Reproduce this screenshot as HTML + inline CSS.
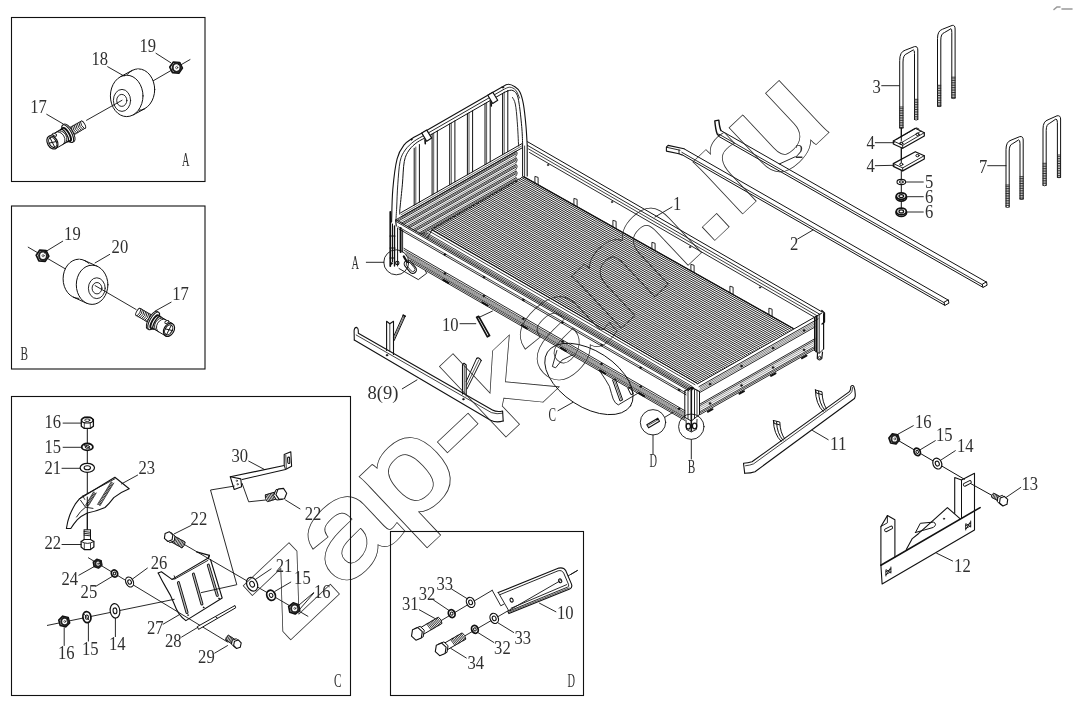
<!DOCTYPE html>
<html lang="zh">
<head>
<meta charset="utf-8">
<title>Parts diagram</title>
<style>
html,body{margin:0;padding:0;background:#fff;}
body{width:1074px;height:703px;overflow:hidden;}
svg{display:block;}
svg text{font-family:"Liberation Serif","Noto Serif CJK SC",serif;fill:#303030;}
svg .wmo,svg .wmi{font-family:"Liberation Sans",sans-serif;vector-effect:non-scaling-stroke;stroke-linejoin:miter;}
svg .wmo{fill:#fff;stroke:#fff;}
svg .wmi{fill:#000;stroke:#000;}
</style>
</head>
<body>
<svg width="1074" height="703" viewBox="0 0 1074 703" fill="none" stroke-linecap="round">
<rect x="0" y="0" width="1074" height="703" fill="#fff" stroke="none"/>
<path d="M432.2 229.5 L697.4 383.4M434.0 228.5 L699.2 382.3M435.7 227.5 L701.1 381.3M437.5 226.5 L702.9 380.2M439.3 225.4 L704.8 379.2M441.0 224.4 L706.6 378.1M442.8 223.4 L708.5 377.1M444.5 222.4 L710.3 376.0M446.3 221.4 L712.1 375.0M448.1 220.4 L714.0 373.9M449.8 219.4 L715.8 372.8M451.6 218.4 L717.7 371.8M453.4 217.3 L719.5 370.7M455.1 216.3 L721.4 369.7M456.9 215.3 L723.2 368.6M458.7 214.3 L725.0 367.6M460.4 213.3 L726.9 366.5M462.2 212.3 L728.7 365.5M463.9 211.3 L730.6 364.4M465.7 210.2 L732.4 363.3M467.5 209.2 L734.2 362.3M469.2 208.2 L736.1 361.2M471.0 207.2 L737.9 360.2M472.8 206.2 L739.8 359.1M474.5 205.2 L741.6 358.1M476.3 204.2 L743.5 357.0M478.0 203.2 L745.3 355.9M479.8 202.1 L747.1 354.9M481.6 201.1 L749.0 353.8M483.3 200.1 L750.8 352.8M485.1 199.1 L752.7 351.7M486.9 198.1 L754.5 350.7M488.6 197.1 L756.4 349.6M490.4 196.1 L758.2 348.6M492.2 195.0 L760.0 347.5M493.9 194.0 L761.9 346.4M495.7 193.0 L763.7 345.4M497.4 192.0 L765.6 344.3M499.2 191.0 L767.4 343.3M501.0 190.0 L769.2 342.2M502.7 189.0 L771.1 341.2M504.5 187.9 L772.9 340.1M506.3 186.9 L774.8 339.1M508.0 185.9 L776.6 338.0M509.8 184.9 L778.5 336.9M511.6 183.9 L780.3 335.9M513.3 182.9 L782.1 334.8M515.1 181.9 L784.0 333.8M516.8 180.9 L785.8 332.7M518.6 179.8 L787.7 331.7M520.4 178.8 L789.5 330.6M522.1 177.8 L791.4 329.6M523.9 176.8 L793.2 328.5" stroke="#151515" stroke-width="0.95" fill="none" stroke-linecap="butt"/>
<line x1="432" y1="230" x2="697" y2="383.2" stroke="#111" stroke-width="1.0"/>
<line x1="428" y1="230.4" x2="695" y2="384.7" stroke="#111" stroke-width="0.8"/>
<line x1="426" y1="232.6" x2="692" y2="386.3" stroke="#111" stroke-width="0.8"/>
<line x1="423.4" y1="232.8" x2="692" y2="388" stroke="#111" stroke-width="0.8"/>
<line x1="421.2" y1="233" x2="692" y2="389.5" stroke="#111" stroke-width="0.8"/>
<line x1="396" y1="219.8" x2="690" y2="389.8" stroke="#111" stroke-width="1.0"/>
<line x1="396.5" y1="221.7" x2="689" y2="390.8" stroke="#111" stroke-width="0.9"/>
<line x1="398" y1="226.6" x2="686" y2="393" stroke="#111" stroke-width="0.8"/>
<line x1="399" y1="229" x2="686" y2="394.8" stroke="#111" stroke-width="0.9"/>
<line x1="404" y1="248.4" x2="685" y2="410.8" stroke="#111" stroke-width="0.9"/>
<line x1="404" y1="250.3" x2="685" y2="412.7" stroke="#111" stroke-width="0.8"/>
<line x1="406" y1="252.7" x2="685" y2="414" stroke="#333" stroke-width="0.6"/>
<line x1="406" y1="253.9" x2="685" y2="415.2" stroke="#333" stroke-width="0.6"/>
<line x1="406" y1="255.1" x2="685" y2="416.4" stroke="#333" stroke-width="0.6"/>
<line x1="408" y1="257.4" x2="685" y2="417.5" stroke="#111" stroke-width="0.8"/>
<line x1="410" y1="260" x2="685" y2="419" stroke="#111" stroke-width="0.8"/>
<line x1="412" y1="262.7" x2="685" y2="420.5" stroke="#111" stroke-width="0.9"/>
<line x1="427.5" y1="238" x2="432.2" y2="229.5" stroke="#111" stroke-width="0.9"/>
<circle cx="444.8" cy="254.5" r="1" fill="#111" stroke="#111" stroke-width="0.5"/>
<circle cx="444.8" cy="273.4" r="1" fill="#111" stroke="#111" stroke-width="0.5"/>
<line x1="443.3" y1="279.9" x2="448.3" y2="282.9" stroke="#111" stroke-width="2.0"/>
<circle cx="483.9" cy="277.1" r="1" fill="#111" stroke="#111" stroke-width="0.5"/>
<circle cx="483.9" cy="296" r="1" fill="#111" stroke="#111" stroke-width="0.5"/>
<line x1="482.4" y1="302.5" x2="487.4" y2="305.5" stroke="#111" stroke-width="2.0"/>
<circle cx="523.3" cy="299.9" r="1" fill="#111" stroke="#111" stroke-width="0.5"/>
<circle cx="523.3" cy="318.8" r="1" fill="#111" stroke="#111" stroke-width="0.5"/>
<line x1="521.8" y1="325.3" x2="526.8" y2="328.3" stroke="#111" stroke-width="2.0"/>
<circle cx="562.4" cy="322.5" r="1" fill="#111" stroke="#111" stroke-width="0.5"/>
<circle cx="562.4" cy="341.4" r="1" fill="#111" stroke="#111" stroke-width="0.5"/>
<line x1="560.9" y1="347.9" x2="565.9" y2="350.9" stroke="#111" stroke-width="2.0"/>
<circle cx="601.5" cy="345.1" r="1" fill="#111" stroke="#111" stroke-width="0.5"/>
<circle cx="601.5" cy="364" r="1" fill="#111" stroke="#111" stroke-width="0.5"/>
<line x1="600" y1="370.5" x2="605" y2="373.5" stroke="#111" stroke-width="2.0"/>
<circle cx="640.6" cy="367.7" r="1" fill="#111" stroke="#111" stroke-width="0.5"/>
<circle cx="640.6" cy="386.6" r="1" fill="#111" stroke="#111" stroke-width="0.5"/>
<line x1="639.1" y1="393.1" x2="644.1" y2="396.1" stroke="#111" stroke-width="2.0"/>
<circle cx="679" cy="389.9" r="1" fill="#111" stroke="#111" stroke-width="0.5"/>
<circle cx="679" cy="408.8" r="1" fill="#111" stroke="#111" stroke-width="0.5"/>
<line x1="697.4" y1="383.9" x2="822" y2="313" stroke="#111" stroke-width="1.0"/>
<line x1="699" y1="386.6" x2="818" y2="318.9" stroke="#111" stroke-width="0.9"/>
<line x1="700" y1="387.6" x2="815" y2="322.2" stroke="#333" stroke-width="0.6"/>
<line x1="700" y1="389.2" x2="815" y2="323.8" stroke="#333" stroke-width="0.6"/>
<line x1="700" y1="390.8" x2="815" y2="325.4" stroke="#333" stroke-width="0.6"/>
<line x1="700" y1="392.4" x2="815" y2="327" stroke="#111" stroke-width="0.9"/>
<line x1="700" y1="404" x2="815" y2="338.6" stroke="#111" stroke-width="0.9"/>
<line x1="700" y1="405.6" x2="815" y2="340.2" stroke="#111" stroke-width="0.8"/>
<line x1="700" y1="407.4" x2="815" y2="342" stroke="#444" stroke-width="0.5"/>
<line x1="700" y1="409.4" x2="815" y2="344" stroke="#444" stroke-width="0.5"/>
<line x1="700" y1="411.6" x2="815" y2="346.2" stroke="#111" stroke-width="0.8"/>
<line x1="700" y1="413" x2="815" y2="347.6" stroke="#111" stroke-width="0.8"/>
<line x1="700" y1="414.6" x2="815" y2="349.2" stroke="#111" stroke-width="0.9"/>
<circle cx="710" cy="384" r="1" fill="#111" stroke="#111" stroke-width="0.5"/>
<circle cx="710" cy="403.4" r="1" fill="#111" stroke="#111" stroke-width="0.5"/>
<line x1="708" y1="411.7" x2="712.5" y2="409.2" stroke="#111" stroke-width="2.0"/>
<circle cx="741.5" cy="366" r="1" fill="#111" stroke="#111" stroke-width="0.5"/>
<circle cx="741.5" cy="385.4" r="1" fill="#111" stroke="#111" stroke-width="0.5"/>
<line x1="739.5" y1="393.7" x2="744" y2="391.2" stroke="#111" stroke-width="2.0"/>
<circle cx="773" cy="348.1" r="1" fill="#111" stroke="#111" stroke-width="0.5"/>
<circle cx="773" cy="367.5" r="1" fill="#111" stroke="#111" stroke-width="0.5"/>
<line x1="771" y1="375.8" x2="775.5" y2="373.3" stroke="#111" stroke-width="2.0"/>
<circle cx="804" cy="330.5" r="1" fill="#111" stroke="#111" stroke-width="0.5"/>
<circle cx="804" cy="349.9" r="1" fill="#111" stroke="#111" stroke-width="0.5"/>
<line x1="802" y1="358.2" x2="806.5" y2="355.7" stroke="#111" stroke-width="2.0"/>
<line x1="527.5" y1="141.7" x2="822" y2="311.9" stroke="#111" stroke-width="1.0"/>
<line x1="527.5" y1="145.4" x2="820" y2="314.4" stroke="#111" stroke-width="0.9"/>
<line x1="528.5" y1="148.9" x2="817" y2="315.7" stroke="#111" stroke-width="0.8"/>
<line x1="529.5" y1="152.5" x2="815" y2="317.5" stroke="#111" stroke-width="0.9"/>
<line x1="523.9" y1="176.8" x2="793.2" y2="328.5" stroke="#111" stroke-width="1.4"/>
<path d="M534.9 182.9 L534.9 176.4 L538.1 177.4 L538.1 184.7" fill="none" stroke="#111" stroke-width="0.9" stroke-linejoin="round"/>
<path d="M573.9 204.9 L573.9 198.4 L577.1 199.4 L577.1 206.7" fill="none" stroke="#111" stroke-width="0.9" stroke-linejoin="round"/>
<path d="M612.9 226.8 L612.9 220.3 L616.1 221.3 L616.1 228.6" fill="none" stroke="#111" stroke-width="0.9" stroke-linejoin="round"/>
<path d="M651.9 248.8 L651.9 242.3 L655.1 243.3 L655.1 250.6" fill="none" stroke="#111" stroke-width="0.9" stroke-linejoin="round"/>
<path d="M690.9 270.8 L690.9 264.3 L694.1 265.3 L694.1 272.6" fill="none" stroke="#111" stroke-width="0.9" stroke-linejoin="round"/>
<path d="M729.9 292.7 L729.9 286.2 L733.1 287.2 L733.1 294.5" fill="none" stroke="#111" stroke-width="0.9" stroke-linejoin="round"/>
<path d="M768.9 314.7 L768.9 308.2 L772.1 309.2 L772.1 316.5" fill="none" stroke="#111" stroke-width="0.9" stroke-linejoin="round"/>
<circle cx="548" cy="165" r="0.8" fill="#111" stroke="#111" stroke-width="0.4"/>
<circle cx="612" cy="202" r="0.8" fill="#111" stroke="#111" stroke-width="0.4"/>
<circle cx="690" cy="247.1" r="0.8" fill="#111" stroke="#111" stroke-width="0.4"/>
<circle cx="760" cy="287.5" r="0.8" fill="#111" stroke="#111" stroke-width="0.4"/>
<path d="M684.8 391 L684.8 417.3" fill="none" stroke="#111" stroke-width="1.0" stroke-linejoin="round"/>
<path d="M688 389.5 L688 418.5" fill="none" stroke="#111" stroke-width="0.9" stroke-linejoin="round"/>
<path d="M691.3 388 L691.3 431" fill="none" stroke="#111" stroke-width="1.6" stroke-linejoin="round"/>
<path d="M694.5 389.8 L694.5 418.5" fill="none" stroke="#111" stroke-width="0.9" stroke-linejoin="round"/>
<path d="M699.5 391.5 L699.5 414.5" fill="none" stroke="#111" stroke-width="1.0" stroke-linejoin="round"/>
<path d="M697 390.3 L697 416" fill="none" stroke="#111" stroke-width="0.8" stroke-linejoin="round"/>
<path d="M684.8 391 L691.3 387.3 L699.5 391.5" fill="none" stroke="#111" stroke-width="1.1" stroke-linejoin="round"/>
<circle cx="692.3" cy="388.3" r="1.4" fill="#111" stroke="#111" stroke-width="0.6"/>
<path d="M684.8 417.3 L691.3 421 L699.5 414.5" fill="none" stroke="#111" stroke-width="1.0" stroke-linejoin="round"/>
<ellipse cx="688.3" cy="426.3" rx="2.2" ry="2.8" fill="none" stroke="#111" stroke-width="1.3"/>
<ellipse cx="694.6" cy="426" rx="2.2" ry="2.8" fill="none" stroke="#111" stroke-width="1.3"/>
<path d="M686 420 L686.5 429.5 L691.3 432 L696.5 429.3 L697 419.5" fill="none" stroke="#111" stroke-width="0.9" stroke-linejoin="round"/>
<path d="M814.5 317.5 L814.5 350.5" fill="none" stroke="#111" stroke-width="1.0" stroke-linejoin="round"/>
<path d="M816.5 316.5 L816.5 351.5" fill="none" stroke="#111" stroke-width="2.2" stroke-linejoin="round"/>
<path d="M819.2 315 L819.2 353" fill="none" stroke="#111" stroke-width="0.9" stroke-linejoin="round"/>
<path d="M823.6 313.5 L823.6 349" fill="none" stroke="#111" stroke-width="1.2" stroke-linejoin="round"/>
<path d="M821.8 310.5 L824.5 313 L824.5 322 L822 324" fill="none" stroke="#111" stroke-width="1.3" stroke-linejoin="round"/>
<path d="M814.5 350.5 L819.2 353.3 L823.6 349" fill="none" stroke="#111" stroke-width="0.9" stroke-linejoin="round"/>
<path d="M817.5 353 L817.3 358.5 Q819.5 361.5 821.8 358.5 L822.5 352" fill="none" stroke="#111" stroke-width="1.2" stroke-linejoin="round" stroke-linecap="round"/>
<circle cx="819.7" cy="357.5" r="1.3" fill="none" stroke="#111" stroke-width="0.8"/>
<path d="M391.6 222.0 C391.8 216.6 391.9 200.0 392.8 189.5 C393.7 179.0 395.2 166.2 397.1 158.8 C399.0 151.4 401.3 148.5 403.9 145.1 C406.4 141.7 409.4 140.3 412.4 138.3 C415.4 136.3 420.2 134.0 421.8 133.2" fill="none" stroke="#111" stroke-width="1.1" stroke-linejoin="round" stroke-linecap="round"/>
<line x1="421.8" y1="133.2" x2="502.1" y2="87.1" stroke="#111" stroke-width="1.1"/>
<path d="M502.1 87.1 C503.1 86.6 506.0 84.3 508.1 84.3 C510.2 84.2 512.9 85.5 514.9 86.8 C516.9 88.1 518.6 89.3 520.0 92.2 C521.4 95.1 522.4 98.5 523.4 104.2 C524.4 109.9 525.4 119.6 526.0 126.4 C526.6 133.2 527.0 142.0 527.2 145.1 L527.2 176" fill="none" stroke="#111" stroke-width="1.1" stroke-linejoin="round" stroke-linecap="round"/>
<path d="M399.6 214.0 C399.7 212.8 399.6 212.0 400.1 207.0 C400.6 202.0 401.7 191.8 402.4 184.2 C403.1 176.6 403.2 167.1 404.3 161.4 C405.4 155.7 407.0 153.2 409.2 150.0 C411.4 146.8 414.5 144.3 417.3 142.2 C420.1 140.1 424.6 138.3 426.1 137.5" fill="none" stroke="#111" stroke-width="1.0" stroke-linejoin="round" stroke-linecap="round"/>
<line x1="426.1" y1="137.5" x2="504.7" y2="92.2" stroke="#111" stroke-width="1.0"/>
<path d="M504.7 92.2 C505.8 91.9 509.5 89.9 511.5 90.2 C513.5 90.5 515.3 91.6 516.6 93.9 C517.9 96.2 518.4 98.8 519.2 104.2 C520.1 109.6 521.1 119.9 521.7 126.4 C522.3 132.9 522.5 140.6 522.6 143.4 L522.6 176" fill="none" stroke="#111" stroke-width="1.0" stroke-linejoin="round" stroke-linecap="round"/>
<path d="M395.9 221.0 C396.0 218.7 396.4 213.1 396.7 207.0 C397.0 200.9 397.2 191.8 397.8 184.2 C398.4 176.6 398.9 167.1 400.1 161.4 C401.3 155.7 402.9 153.4 405.2 150.0 C407.5 146.6 411.1 143.6 414.2 141.2 C417.3 138.8 422.4 136.4 424.0 135.4 L503.4 89.6 " fill="none" stroke="#111" stroke-width="0.9" stroke-linejoin="round" stroke-linecap="round"/>
<path d="M503.4 89.6 C504.5 89.2 507.7 87.1 509.8 87.2 C511.9 87.3 514.2 88.4 515.8 90.2 C517.4 92.0 518.9 96.7 519.5 98.0" fill="none" stroke="#111" stroke-width="0.8" stroke-linejoin="round" stroke-linecap="round"/>
<path d="M512.5 97.5 C513.0 98.6 514.5 100.0 515.3 104.0 C516.1 108.0 516.7 114.2 517.2 121.2 C517.8 128.2 518.4 141.9 518.6 146.0" fill="none" stroke="#111" stroke-width="0.9" stroke-linejoin="round" stroke-linecap="round"/>
<line x1="524.6" y1="146" x2="524.6" y2="176" stroke="#111" stroke-width="0.8"/>
<path d="M421.8 133.1 L426.8 130.1 L431.7 138.1 L426.7 141.3 Z" fill="#fff" stroke="#111" stroke-width="1.2" stroke-linejoin="round"/>
<line x1="425" y1="139.8" x2="425.3" y2="143.8" stroke="#111" stroke-width="1.6"/>
<path d="M487.8 95.3 L492.8 92.3 L497.7 100.3 L492.7 103.5 Z" fill="#fff" stroke="#111" stroke-width="1.2" stroke-linejoin="round"/>
<line x1="491" y1="102" x2="491.3" y2="106" stroke="#111" stroke-width="1.6"/>
<circle cx="411.5" cy="139.6" r="0.8" fill="#111" stroke="#111" stroke-width="0.4"/>
<circle cx="503" cy="87.5" r="0.8" fill="#111" stroke="#111" stroke-width="0.4"/>
<line x1="414.2" y1="148.2" x2="414.2" y2="205.1" stroke="#111" stroke-width="1.0"/>
<line x1="415.8" y1="147" x2="415.8" y2="204.2" stroke="#111" stroke-width="0.7"/>
<line x1="419.4" y1="144.5" x2="419.4" y2="202.1" stroke="#111" stroke-width="1.0"/>
<line x1="432.1" y1="134" x2="432.1" y2="194.9" stroke="#111" stroke-width="1.0"/>
<line x1="433.7" y1="133.1" x2="433.7" y2="194" stroke="#111" stroke-width="0.7"/>
<line x1="437.3" y1="131" x2="437.3" y2="191.9" stroke="#111" stroke-width="1.0"/>
<line x1="449.7" y1="123.9" x2="449.7" y2="184.8" stroke="#111" stroke-width="1.0"/>
<line x1="451.3" y1="123" x2="451.3" y2="183.9" stroke="#111" stroke-width="0.7"/>
<line x1="454.9" y1="120.9" x2="454.9" y2="181.9" stroke="#111" stroke-width="1.0"/>
<line x1="467.4" y1="113.7" x2="467.4" y2="174.8" stroke="#111" stroke-width="1.0"/>
<line x1="469" y1="112.8" x2="469" y2="173.8" stroke="#111" stroke-width="0.7"/>
<line x1="472.6" y1="110.7" x2="472.6" y2="171.8" stroke="#111" stroke-width="1.0"/>
<line x1="485" y1="103.6" x2="485" y2="164.7" stroke="#111" stroke-width="1.0"/>
<line x1="486.6" y1="102.6" x2="486.6" y2="163.8" stroke="#111" stroke-width="0.7"/>
<line x1="490.2" y1="100.6" x2="490.2" y2="161.8" stroke="#111" stroke-width="1.0"/>
<line x1="502.6" y1="93.4" x2="502.6" y2="154.7" stroke="#111" stroke-width="1.0"/>
<line x1="504.2" y1="92.5" x2="504.2" y2="153.8" stroke="#111" stroke-width="0.7"/>
<line x1="507.8" y1="90.4" x2="507.8" y2="151.7" stroke="#111" stroke-width="1.0"/>
<line x1="400.5" y1="212.9" x2="522.4" y2="143.4" stroke="#111" stroke-width="1.0"/>
<line x1="401" y1="216.9" x2="522.4" y2="147.7" stroke="#111" stroke-width="1.0"/>
<line x1="401" y1="214.8" x2="522.4" y2="145.6" stroke="#111" stroke-width="0.6"/>
<line x1="396.5" y1="219.4" x2="516" y2="151.3" stroke="#111" stroke-width="0.9"/>
<line x1="397" y1="220.4" x2="516" y2="152.6" stroke="#111" stroke-width="0.7"/>
<line x1="398.2" y1="221.1" x2="516" y2="153.9" stroke="#111" stroke-width="0.9"/>
<line x1="400" y1="222.1" x2="516" y2="156" stroke="#111" stroke-width="0.5"/>
<path d="M516 151.3 q2.6 1.2 0 4.7" fill="none" stroke="#111" stroke-width="0.8" stroke-linejoin="round" stroke-linecap="round"/>
<line x1="401.6" y1="223.1" x2="516" y2="157.9" stroke="#111" stroke-width="0.9"/>
<line x1="402.8" y1="223.7" x2="516" y2="159.2" stroke="#111" stroke-width="0.7"/>
<line x1="403.9" y1="224.4" x2="516" y2="160.5" stroke="#111" stroke-width="0.9"/>
<line x1="405.7" y1="225.5" x2="516" y2="162.6" stroke="#111" stroke-width="0.5"/>
<path d="M516 157.9 q2.6 1.2 0 4.7" fill="none" stroke="#111" stroke-width="0.8" stroke-linejoin="round" stroke-linecap="round"/>
<line x1="407.4" y1="226.4" x2="516" y2="164.5" stroke="#111" stroke-width="0.9"/>
<line x1="408.5" y1="227.1" x2="516" y2="165.8" stroke="#111" stroke-width="0.7"/>
<line x1="409.7" y1="227.7" x2="516" y2="167.1" stroke="#111" stroke-width="0.9"/>
<line x1="411.5" y1="228.8" x2="516" y2="169.2" stroke="#111" stroke-width="0.5"/>
<path d="M516 164.5 q2.6 1.2 0 4.7" fill="none" stroke="#111" stroke-width="0.8" stroke-linejoin="round" stroke-linecap="round"/>
<line x1="413.1" y1="229.7" x2="516" y2="171.1" stroke="#111" stroke-width="0.9"/>
<line x1="414.3" y1="230.4" x2="516" y2="172.4" stroke="#111" stroke-width="0.7"/>
<line x1="415.4" y1="231" x2="516" y2="173.7" stroke="#111" stroke-width="0.9"/>
<line x1="417.2" y1="232.1" x2="516" y2="175.8" stroke="#111" stroke-width="0.5"/>
<path d="M516 171.1 q2.6 1.2 0 4.7" fill="none" stroke="#111" stroke-width="0.8" stroke-linejoin="round" stroke-linecap="round"/>
<line x1="418.9" y1="233.1" x2="516" y2="177.7" stroke="#111" stroke-width="0.9"/>
<line x1="420" y1="233.7" x2="516" y2="179" stroke="#111" stroke-width="0.7"/>
<line x1="421.1" y1="234.4" x2="516" y2="180.3" stroke="#111" stroke-width="0.9"/>
<line x1="423" y1="235.4" x2="515.2" y2="182.8" stroke="#111" stroke-width="0.5"/>
<path d="M516 177.7 q2.6 1.2 0 4.7" fill="none" stroke="#111" stroke-width="0.8" stroke-linejoin="round" stroke-linecap="round"/>
<path d="M432.2 229.5 Q433.5 226.8 436.0 227.3 Q437.3 224.6 439.8 225.1 Q441.2 222.4 443.7 222.9 Q445.0 220.2 447.5 220.7 Q448.8 218.0 451.3 218.5 Q452.6 215.8 455.1 216.3 Q456.4 213.6 458.9 214.1 Q460.3 211.4 462.8 211.9 Q464.1 209.2 466.6 209.7 Q467.9 207.0 470.4 207.5 Q471.7 204.8 474.2 205.3 Q475.5 202.6 478.0 203.2 Q479.4 200.5 481.9 201.0 Q483.2 198.3 485.7 198.8 Q487.0 196.1 489.5 196.6 Q490.8 193.9 493.3 194.4 Q494.6 191.7 497.2 192.2 Q498.5 189.5 501.0 190.0 Q502.3 187.3 504.8 187.8 Q506.1 185.1 508.6 185.6 Q509.9 182.9 512.4 183.4 Q513.7 180.7 516.3 181.2 Q517.6 178.5 520.1 179.0 Q521.4 176.3 523.9 176.8" fill="none" stroke="#111" stroke-width="1.0" stroke-linejoin="round" stroke-linecap="round"/>
<path d="M395.6 220 L396.3 226" fill="none" stroke="#111" stroke-width="1.1" stroke-linejoin="round"/>
<line x1="390.3" y1="212" x2="390.3" y2="266" stroke="#111" stroke-width="1.8"/>
<line x1="392.5" y1="224" x2="392.5" y2="262" stroke="#111" stroke-width="1.0"/>
<line x1="394.5" y1="226" x2="394.5" y2="266" stroke="#111" stroke-width="1.4"/>
<line x1="397.6" y1="228" x2="397.6" y2="266" stroke="#111" stroke-width="1.0"/>
<line x1="400.6" y1="228" x2="400.6" y2="252" stroke="#111" stroke-width="2.0"/>
<line x1="402.6" y1="230" x2="402.6" y2="252" stroke="#111" stroke-width="0.9"/>
<line x1="390" y1="236" x2="395" y2="236" stroke="#111" stroke-width="1.2"/>
<line x1="390" y1="248" x2="395" y2="248" stroke="#111" stroke-width="1.2"/>
<line x1="390" y1="258" x2="394" y2="258" stroke="#111" stroke-width="1.0"/>
<circle cx="397.3" cy="263" r="1.7" fill="none" stroke="#111" stroke-width="1.1"/>
<circle cx="391.5" cy="263.5" r="0.9" fill="#111" stroke="#111" stroke-width="0.5"/>
<rect x="-7.5" y="-3.6" width="15" height="7.2" rx="3.6" fill="none" stroke="#111" stroke-width="1.1" transform="translate(410.3 266.8) rotate(50)"/>
<rect x="-5.6" y="-2.2" width="11.2" height="4.4" rx="2.2" fill="none" stroke="#111" stroke-width="0.8" transform="translate(410.6 266.8) rotate(50)"/>
<line x1="403.8" y1="256.5" x2="407" y2="262" stroke="#111" stroke-width="2.2"/>
<path d="M399 268.5 L418.3 279.6 L426.8 273.2 L425.5 271.5" fill="none" stroke="#111" stroke-width="0.9" stroke-linejoin="round"/>
<line x1="684" y1="148.8" x2="948.4" y2="300.2" stroke="#111" stroke-width="1.0"/>
<line x1="681.8" y1="152.3" x2="944.2" y2="302.7" stroke="#111" stroke-width="0.9"/>
<line x1="681.8" y1="154.6" x2="944.2" y2="305" stroke="#111" stroke-width="1.0"/>
<path d="M948.4 300.2 L948.9 303.2 L944.7 305.5 L944.1 302.6 Z" fill="none" stroke="#111" stroke-width="1.0" stroke-linejoin="round"/>
<path d="M684 148.8 L668.1 145.4 L666.4 147.1 L666.4 151.1 L679 153.8 L682 155" fill="none" stroke="#111" stroke-width="1.1" stroke-linejoin="round" stroke-linecap="round"/>
<path d="M666.6 147.3 L680 150.2 M679 150.2 L679 153.8" fill="none" stroke="#111" stroke-width="0.9" stroke-linejoin="round" stroke-linecap="round"/>
<line x1="721" y1="130.6" x2="986.6" y2="282.2" stroke="#111" stroke-width="1.0"/>
<line x1="718.8" y1="134.1" x2="982.4" y2="284.7" stroke="#111" stroke-width="0.9"/>
<line x1="718.8" y1="136.4" x2="982.4" y2="287" stroke="#111" stroke-width="1.0"/>
<path d="M986.6 282.2 L987.1 285.2 L982.9 287.5 L982.3 284.6 Z" fill="none" stroke="#111" stroke-width="1.0" stroke-linejoin="round"/>
<path d="M721 130.6 Q719.6 128 718.8 120.1 L714.8 120.9 Q715.6 130 717.2 134 L718.8 135.7" fill="none" stroke="#111" stroke-width="1.4" stroke-linejoin="round" stroke-linecap="round"/>
<path d="M899.7 128.0 L899.7 60.5 Q899.7 51.7 905.2 50.2 L914.5 46.6 Q917.8 46.0 917.8 50.0 L917.8 119.6" fill="none" stroke="#111" stroke-width="1.0" stroke-linejoin="round" stroke-linecap="round"/>
<path d="M903.0 128.0 L903.0 62.0 Q903.0 54.7 907.0 53.6 L913.3 49.9 Q914.5 49.8 914.5 53.5 L914.5 119.6" fill="none" stroke="#111" stroke-width="1.0" stroke-linejoin="round" stroke-linecap="round"/>
<path d="M899.7 128.0 q1.6 1.2 3.3 0" fill="none" stroke="#111" stroke-width="0.9" stroke-linejoin="round" stroke-linecap="round"/>
<path d="M914.5 119.6 q1.6 1.2 3.3 0" fill="none" stroke="#111" stroke-width="0.9" stroke-linejoin="round" stroke-linecap="round"/>
<path d="M899.7 107.0 l3.3 0M899.7 108.7 l3.3 0M899.7 110.4 l3.3 0M899.7 112.1 l3.3 0M899.7 113.8 l3.3 0M899.7 115.5 l3.3 0M899.7 117.2 l3.3 0M899.7 118.9 l3.3 0M899.7 120.6 l3.3 0M899.7 122.3 l3.3 0M899.7 124.0 l3.3 0M899.7 125.7 l3.3 0M899.7 127.4 l3.3 0M914.5 99.3 l3.3 0M914.5 101.0 l3.3 0M914.5 102.7 l3.3 0M914.5 104.4 l3.3 0M914.5 106.1 l3.3 0M914.5 107.8 l3.3 0M914.5 109.5 l3.3 0M914.5 111.2 l3.3 0M914.5 112.9 l3.3 0M914.5 114.6 l3.3 0M914.5 116.3 l3.3 0M914.5 118.0 l3.3 0" fill="none" stroke="#222" stroke-width="0.9" stroke-linejoin="round" stroke-linecap="round"/>
<path d="M937.5 106.2 L937.5 38.5 Q937.5 30.7 942.6 29.2 L952.2 25.4 Q955.1 24.8 955.1 29.0 L955.1 98.1" fill="none" stroke="#111" stroke-width="1.0" stroke-linejoin="round" stroke-linecap="round"/>
<path d="M940.8 106.2 L940.8 40.0 Q940.8 33.7 944.4 32.6 L951.0 28.7 Q951.8 28.6 951.8 32.5 L951.8 98.1" fill="none" stroke="#111" stroke-width="1.0" stroke-linejoin="round" stroke-linecap="round"/>
<path d="M937.5 106.2 q1.6 1.2 3.3 0" fill="none" stroke="#111" stroke-width="0.9" stroke-linejoin="round" stroke-linecap="round"/>
<path d="M951.8 98.1 q1.6 1.2 3.3 0" fill="none" stroke="#111" stroke-width="0.9" stroke-linejoin="round" stroke-linecap="round"/>
<path d="M937.5 85.3 l3.3 0M937.5 87.0 l3.3 0M937.5 88.7 l3.3 0M937.5 90.4 l3.3 0M937.5 92.1 l3.3 0M937.5 93.8 l3.3 0M937.5 95.5 l3.3 0M937.5 97.2 l3.3 0M937.5 98.9 l3.3 0M937.5 100.6 l3.3 0M937.5 102.3 l3.3 0M937.5 104.0 l3.3 0M937.5 105.7 l3.3 0M951.8 77.2 l3.3 0M951.8 78.9 l3.3 0M951.8 80.6 l3.3 0M951.8 82.3 l3.3 0M951.8 84.0 l3.3 0M951.8 85.7 l3.3 0M951.8 87.4 l3.3 0M951.8 89.1 l3.3 0M951.8 90.8 l3.3 0M951.8 92.5 l3.3 0M951.8 94.2 l3.3 0M951.8 95.9 l3.3 0M951.8 97.6 l3.3 0" fill="none" stroke="#222" stroke-width="0.9" stroke-linejoin="round" stroke-linecap="round"/>
<path d="M1006.0 207.0 L1006.0 149.5 Q1006.0 141.7 1011.0 140.2 L1019.8 136.6 Q1023.2 136.0 1023.2 140.0 L1023.2 199.0" fill="none" stroke="#111" stroke-width="1.0" stroke-linejoin="round" stroke-linecap="round"/>
<path d="M1009.2 207.0 L1009.2 151.0 Q1009.2 144.7 1012.8 143.6 L1018.6 139.9 Q1020.0 139.8 1020.0 143.5 L1020.0 199.0" fill="none" stroke="#111" stroke-width="1.0" stroke-linejoin="round" stroke-linecap="round"/>
<path d="M1006.0 207.0 q1.6 1.2 3.2 0" fill="none" stroke="#111" stroke-width="0.9" stroke-linejoin="round" stroke-linecap="round"/>
<path d="M1020.0 199.0 q1.6 1.2 3.2 0" fill="none" stroke="#111" stroke-width="0.9" stroke-linejoin="round" stroke-linecap="round"/>
<path d="M1006.0 185.0 l3.2 0M1006.0 186.7 l3.2 0M1006.0 188.4 l3.2 0M1006.0 190.1 l3.2 0M1006.0 191.8 l3.2 0M1006.0 193.5 l3.2 0M1006.0 195.2 l3.2 0M1006.0 196.9 l3.2 0M1006.0 198.6 l3.2 0M1006.0 200.3 l3.2 0M1006.0 202.0 l3.2 0M1006.0 203.7 l3.2 0M1006.0 205.4 l3.2 0M1020.0 176.7 l3.2 0M1020.0 178.4 l3.2 0M1020.0 180.1 l3.2 0M1020.0 181.8 l3.2 0M1020.0 183.5 l3.2 0M1020.0 185.2 l3.2 0M1020.0 186.9 l3.2 0M1020.0 188.6 l3.2 0M1020.0 190.3 l3.2 0M1020.0 192.0 l3.2 0M1020.0 193.7 l3.2 0M1020.0 195.4 l3.2 0M1020.0 197.1 l3.2 0M1020.0 198.8 l3.2 0" fill="none" stroke="#222" stroke-width="0.9" stroke-linejoin="round" stroke-linecap="round"/>
<path d="M1043.0 185.3 L1043.0 129.0 Q1043.0 121.3 1048.0 119.8 L1057.0 115.8 Q1060.6 115.2 1060.6 119.0 L1060.6 177.3" fill="none" stroke="#111" stroke-width="1.0" stroke-linejoin="round" stroke-linecap="round"/>
<path d="M1046.2 185.3 L1046.2 130.5 Q1046.2 124.3 1049.8 123.2 L1055.8 119.1 Q1057.4 119.0 1057.4 122.5 L1057.4 177.3" fill="none" stroke="#111" stroke-width="1.0" stroke-linejoin="round" stroke-linecap="round"/>
<path d="M1043.0 185.3 q1.6 1.2 3.2 0" fill="none" stroke="#111" stroke-width="0.9" stroke-linejoin="round" stroke-linecap="round"/>
<path d="M1057.4 177.3 q1.6 1.2 3.2 0" fill="none" stroke="#111" stroke-width="0.9" stroke-linejoin="round" stroke-linecap="round"/>
<path d="M1043.0 163.3 l3.2 0M1043.0 165.0 l3.2 0M1043.0 166.7 l3.2 0M1043.0 168.4 l3.2 0M1043.0 170.1 l3.2 0M1043.0 171.8 l3.2 0M1043.0 173.5 l3.2 0M1043.0 175.2 l3.2 0M1043.0 176.9 l3.2 0M1043.0 178.6 l3.2 0M1043.0 180.3 l3.2 0M1043.0 182.0 l3.2 0M1043.0 183.7 l3.2 0M1057.4 155.0 l3.2 0M1057.4 156.7 l3.2 0M1057.4 158.4 l3.2 0M1057.4 160.1 l3.2 0M1057.4 161.8 l3.2 0M1057.4 163.5 l3.2 0M1057.4 165.2 l3.2 0M1057.4 166.9 l3.2 0M1057.4 168.6 l3.2 0M1057.4 170.3 l3.2 0M1057.4 172.0 l3.2 0M1057.4 173.7 l3.2 0M1057.4 175.4 l3.2 0M1057.4 177.1 l3.2 0" fill="none" stroke="#222" stroke-width="0.9" stroke-linejoin="round" stroke-linecap="round"/>
<line x1="901.3" y1="128" x2="901.3" y2="214" stroke="#111" stroke-width="1.0"/>
<path d="M893.3 141 L915.3 128.3 L924.3 132.7 L924.3 136 L902.7 148.3 L893.3 144 Z" fill="#fff" stroke="#111" stroke-width="1.2" stroke-linejoin="round"/>
<path d="M893.3 141 L902.7 145.3 L924.3 132.7" fill="none" stroke="#111" stroke-width="0.9" stroke-linejoin="round"/>
<line x1="902.7" y1="145.3" x2="902.7" y2="148.3" stroke="#111" stroke-width="0.9"/>
<path d="M896.2 139.6 L916.6 127.9 L918.9 129" fill="none" stroke="#111" stroke-width="0.9" stroke-linejoin="round"/>
<path d="M899.5 143.8 L921 131.2" fill="none" stroke="#111" stroke-width="0.8" stroke-linejoin="round"/>
<ellipse cx="901.3" cy="143.3" rx="1.6" ry="1.2" fill="none" stroke="#111" stroke-width="1.0"/>
<ellipse cx="917.5" cy="134.3" rx="1.6" ry="1.2" fill="none" stroke="#111" stroke-width="1.0"/>
<path d="M893.3 163.6 L915.3 151.7 L924.3 155.7 L924.3 159 L902.7 170.9 L893.3 166.4 Z" fill="#fff" stroke="#111" stroke-width="1.2" stroke-linejoin="round"/>
<path d="M893.3 163.6 L902.7 167.9 L924.3 155.7" fill="none" stroke="#111" stroke-width="0.9" stroke-linejoin="round"/>
<line x1="902.7" y1="167.9" x2="902.7" y2="170.9" stroke="#111" stroke-width="0.9"/>
<ellipse cx="901.3" cy="164.3" rx="1.6" ry="1.2" fill="none" stroke="#111" stroke-width="1.0"/>
<ellipse cx="917.5" cy="155.6" rx="1.6" ry="1.2" fill="none" stroke="#111" stroke-width="1.0"/>
<line x1="901.3" y1="128" x2="901.3" y2="140.5" stroke="#111" stroke-width="1.0"/>
<line x1="901.3" y1="148" x2="901.3" y2="162.5" stroke="#111" stroke-width="1.0"/>
<ellipse cx="901.3" cy="182" rx="4.3" ry="2.6" fill="#fff" stroke="#111" stroke-width="1.1"/>
<ellipse cx="901.3" cy="182" rx="1.9" ry="1.2" fill="#fff" stroke="#111" stroke-width="0.9900000000000001"/>
<ellipse cx="901.3" cy="197.5" rx="5.3" ry="3.6" fill="#fff" stroke="#111" stroke-width="1.6"/>
<ellipse cx="901.3" cy="196.1" rx="5" ry="3.3" fill="#fff" stroke="#111" stroke-width="1.8"/>
<ellipse cx="901.3" cy="196.1" rx="2.3" ry="1.5" fill="#fff" stroke="#111" stroke-width="1.3"/>
<ellipse cx="901.3" cy="212.8" rx="5.3" ry="3.6" fill="#fff" stroke="#111" stroke-width="1.6"/>
<ellipse cx="901.3" cy="211.4" rx="5" ry="3.3" fill="#fff" stroke="#111" stroke-width="1.8"/>
<ellipse cx="901.3" cy="211.4" rx="2.3" ry="1.5" fill="#fff" stroke="#111" stroke-width="1.3"/>
<path d="M354.3 340 L354.1 331 Q354.3 327.3 356.8 327.4 Q358.6 328 358.3 333.3 L492.4 410.0 Q497 412.5 502.6 411 L503.2 421" fill="none" stroke="#111" stroke-width="1.1" stroke-linejoin="round" stroke-linecap="round"/>
<path d="M356.2 335 L491.4 412.6 Q497 414.6 502.6 413.2" fill="none" stroke="#111" stroke-width="0.8" stroke-linejoin="round" stroke-linecap="round"/>
<path d="M354.3 340 L490.6 420.2 Q496 423 503.2 421" fill="none" stroke="#111" stroke-width="1.1" stroke-linejoin="round" stroke-linecap="round"/>
<path d="M386.6 350.5 L386.6 321.3 L389.8 323.7 L393.5 321.3 L393.5 354.4" fill="none" stroke="#111" stroke-width="1.1" stroke-linejoin="round" stroke-linecap="round"/>
<line x1="389.8" y1="323.7" x2="389.8" y2="351.3" stroke="#111" stroke-width="0.8"/>
<line x1="393.5" y1="336.8" x2="403.2" y2="315.2" stroke="#111" stroke-width="1.0"/>
<line x1="394.2" y1="340.5" x2="405.2" y2="316.2" stroke="#111" stroke-width="1.0"/>
<line x1="403.2" y1="315.2" x2="405.2" y2="316.2" stroke="#111" stroke-width="1.6"/>
<line x1="394" y1="338.5" x2="404.2" y2="316" stroke="#111" stroke-width="0.6"/>
<circle cx="387" cy="355.2" r="0.9" fill="#111" stroke="#111" stroke-width="0.5"/>
<path d="M462.5 393.9 L462.5 364.6 L464 363.2 L466.2 365 L466.2 396.0" fill="none" stroke="#111" stroke-width="1.1" stroke-linejoin="round" stroke-linecap="round"/>
<line x1="464.3" y1="366" x2="464.3" y2="393.9" stroke="#111" stroke-width="0.7"/>
<line x1="466.2" y1="381.5" x2="476.6" y2="358.5" stroke="#111" stroke-width="1.0"/>
<line x1="467" y1="389" x2="481.2" y2="360.5" stroke="#111" stroke-width="1.0"/>
<path d="M476.6 358.5 Q478.5 356.5 481.2 360.5" fill="none" stroke="#111" stroke-width="1.2" stroke-linejoin="round" stroke-linecap="round"/>
<line x1="466.6" y1="385.5" x2="479" y2="359.8" stroke="#111" stroke-width="0.7"/>
<circle cx="463.4" cy="399.2" r="0.9" fill="#111" stroke="#111" stroke-width="0.5"/>
<path d="M476.6 317.2 L478.7 316.3 L489.6 335.6 L487.4 336.8 Z" fill="none" stroke="#111" stroke-width="1.7" stroke-linejoin="round"/>
<path d="M744.7 473.2 L743.5 463.2 Q748 463 752 461.8 L848.8 392.1 Q850.6 391 850.8 386.5 Q852.5 384.5 853.8 386.4 Q855.6 391 855.2 396.3 L854.5 398.5" fill="none" stroke="#111" stroke-width="1.1" stroke-linejoin="round" stroke-linecap="round"/>
<path d="M745.5 465.8 Q750 465.3 753.5 463.9 L850.4 393.7 Q852.3 392.5 852.6 387.5" fill="none" stroke="#111" stroke-width="0.8" stroke-linejoin="round" stroke-linecap="round"/>
<path d="M744.7 473.2 Q751 473.2 755 471.7 L854.5 398.5" fill="none" stroke="#111" stroke-width="1.1" stroke-linejoin="round" stroke-linecap="round"/>
<path d="M773.4 420.5 L779.8 422 Q780.2 433 784.8 439 M773.4 420.5 Q773.6 434 781.2 441.3 M776.6 421.8 Q776.8 433.5 783 440.2 M773.4 420.5 L774.3 423.5 L779.5 424.8" fill="none" stroke="#111" stroke-width="1.0" stroke-linejoin="round" stroke-linecap="round"/>
<path d="M815.4 390 L822 391.8 Q822.4 403 826.7 409.1 M815.4 390 Q815.6 404 823.2 411.4 M818.6 391.3 Q818.8 403.5 825 410.3 M815.4 390 L816.3 393 L821.7 394.5" fill="none" stroke="#111" stroke-width="1.0" stroke-linejoin="round" stroke-linecap="round"/>
<path d="M880.9 565.2 L882.1 584 L974.5 530.1 L974.5 473.2 L961.5 480 L954.7 477.6 L954.7 513.2" fill="none" stroke="#111" stroke-width="1.1" stroke-linejoin="round"/>
<path d="M880.9 565.2 L880.9 526.5 L887.4 515.6 L894.9 519.7 L894.9 556.7" fill="none" stroke="#111" stroke-width="1.1" stroke-linejoin="round"/>
<path d="M887.4 515.6 L887.4 522.8 L880.9 526.5" fill="none" stroke="#111" stroke-width="0.9" stroke-linejoin="round"/>
<path d="M887.4 522.8 L894.9 526.5" fill="none" stroke="#111" stroke-width="0.0001" stroke-linejoin="round"/>
<path d="M961.5 480 L961.5 518" fill="none" stroke="#111" stroke-width="1.0" stroke-linejoin="round"/>
<path d="M880.9 565.2 L980.1 507.6" fill="none" stroke="#111" stroke-width="1.6" stroke-linejoin="round"/>
<path d="M906.3 549.4 L912.3 538.6 L918.4 533.7 L947.4 507.6 L960 518.7" fill="none" stroke="#111" stroke-width="1.1" stroke-linejoin="round"/>
<path d="M915.5 532.5 L920.3 523.3 L933.4 522.1 Q937.7 524.0 933.4 527.4 L915.5 532.5 Z" fill="none" stroke="#111" stroke-width="1.0" stroke-linejoin="round" stroke-linecap="round"/>
<circle cx="944" cy="518.7" r="0.7" fill="#111" stroke="#111" stroke-width="0.5"/>
<rect x="-4.3" y="-1.5" width="8.6" height="3" rx="1.5" fill="none" stroke="#111" stroke-width="0.9" transform="translate(888.6 528.9) rotate(-27)"/>
<rect x="-4.3" y="-1.5" width="8.6" height="3" rx="1.5" fill="none" stroke="#111" stroke-width="0.9" transform="translate(967.3 483.4) rotate(-27)"/>
<path d="M885.9 570.0 l0 6 M890.9 567.0 l0 6 M885.9 571.8 l5 -2.6 M885.9 574.5 l5 -2.6 M886.4 569.9 l4 2.5 M886.4 574.7 l4 -6.5" fill="none" stroke="#111" stroke-width="0.9" stroke-linejoin="round" stroke-linecap="round"/>
<path d="M965.7 524.0 l0 6 M970.7 521.0 l0 6 M965.7 525.8 l5 -2.6 M965.7 528.5 l5 -2.6 M966.2 523.9 l4 2.5 M966.2 528.7 l4 -6.5" fill="none" stroke="#111" stroke-width="0.9" stroke-linejoin="round" stroke-linecap="round"/>
<line x1="894.2" y1="438.1" x2="964.4" y2="479.3" stroke="#111" stroke-width="1.0"/>
<line x1="970.4" y1="483.4" x2="993.4" y2="496.2" stroke="#111" stroke-width="1.0"/>
<path d="M899.5 439.8 L896 443.9 L890.7 443 L888.9 438 L892.4 433.9 L897.7 434.8 Z" fill="#fff" stroke="#111" stroke-width="1.7" stroke-linejoin="round"/>
<ellipse cx="894.7" cy="438.9" rx="3.3" ry="3.7" fill="none" stroke="#222" stroke-width="2.0"/>
<circle cx="894.8" cy="438.9" r="1" fill="#fff" stroke="#111" stroke-width="0.6"/>
<line x1="897.7" y1="434.8" x2="896.3" y2="437.3" stroke="#111" stroke-width="1.0"/>
<ellipse cx="917.2" cy="451.9" rx="3" ry="3.9" fill="#fff" stroke="#111" stroke-width="1.8" transform="rotate(-25 917.2 451.9)"/>
<ellipse cx="917.2" cy="451.9" rx="1.2" ry="1.6" fill="#fff" stroke="#111" stroke-width="1.0" transform="rotate(-25 917.2 451.9)"/>
<ellipse cx="937.3" cy="463.6" rx="4.3" ry="5.6" fill="#fff" stroke="#111" stroke-width="1.2" transform="rotate(-25 937.3 463.6)"/>
<ellipse cx="937.3" cy="463.6" rx="1.9" ry="2.5" fill="#fff" stroke="#111" stroke-width="1.08" transform="rotate(-25 937.3 463.6)"/>
<path d="M999.3 501.5 L991.5 497.2 L991.9 494.8 L993.7 493.2 L1001.5 497.4" fill="#fff" stroke="#111" stroke-width="1.0" stroke-linejoin="round"/>
<path d="M1001.9 502.9 L1003.4 498.4M1000.6 502.2 L1002.0 497.7M999.3 501.5 L1000.7 497.0M998.0 500.8 L999.4 496.3M996.7 500.0 L998.1 495.6M995.4 499.3 L996.8 494.9M994.0 498.6 L995.5 494.1M992.7 497.9 L994.1 493.4" fill="none" stroke="#222" stroke-width="0.9" stroke-linejoin="round" stroke-linecap="round"/>
<path d="M998.2 497.1 L1002.3 495.3 L1005.8 498.4 L1005.1 503.2 L1001 505 L997.6 501.9 Z" fill="#fff" stroke="#111" stroke-width="1.0" stroke-linejoin="round"/>
<path d="M1000.2 498.1 L1004.3 496.4 L1007.7 499.4 L1007 504.3 L1002.9 506 L999.5 503 Z" fill="#fff" stroke="#111" stroke-width="1.1" stroke-linejoin="round"/>
<line x1="190" y1="59.6" x2="149.9" y2="82.7" stroke="#111" stroke-width="0.9"/>
<line x1="122" y1="100.3" x2="86.5" y2="120.3" stroke="#111" stroke-width="0.9"/>
<ellipse cx="138.4" cy="89.6" rx="16.3" ry="20.7" fill="#fff" stroke="#111" stroke-width="1.0"/>
<path d="M126.7 75.2 L138.4 68.9 L138.4 110.3 L126.7 116.6 Z" fill="#fff" stroke="#fff" stroke-width="0.01" stroke-linejoin="round"/>
<line x1="133.1" y1="115" x2="144.8" y2="108.7" stroke="#111" stroke-width="1.0"/>
<line x1="120.3" y1="76.8" x2="132" y2="70.5" stroke="#111" stroke-width="1.0"/>
<ellipse cx="126.7" cy="95.9" rx="16.3" ry="20.7" fill="#fff" stroke="#111" stroke-width="1.0"/>
<ellipse cx="122" cy="100.4" rx="8.6" ry="11" fill="none" stroke="#111" stroke-width="0.9"/>
<ellipse cx="121.8" cy="100.4" rx="5.1" ry="6" fill="none" stroke="#111" stroke-width="0.9"/>
<line x1="122" y1="100.3" x2="113" y2="105.4" stroke="#111" stroke-width="0.9"/>
<path d="M182.4 68.1 L178.8 73.2 L172.5 72.7 L169.8 67.1 L173.4 62 L179.7 62.5 Z" fill="#fff" stroke="#111" stroke-width="1.7" stroke-linejoin="round"/>
<ellipse cx="176.6" cy="67.6" rx="3.9" ry="4.3" fill="none" stroke="#222" stroke-width="2.0"/>
<circle cx="176.7" cy="67.6" r="1.1" fill="#fff" stroke="#111" stroke-width="0.6"/>
<line x1="179.7" y1="62.5" x2="178.3" y2="65" stroke="#111" stroke-width="1.0"/>
<ellipse cx="83.3" cy="124.6" rx="1.5" ry="4" fill="#fff" stroke="#111" stroke-width="0.9" transform="rotate(-30 83.3 124.6)"/>
<path d="M81.3 121.1 L68.8 128.3 L72.8 135.3 L85.3 128.1 Z" fill="#fff" stroke="#fff" stroke-width="0.01" stroke-linejoin="round"/>
<line x1="81.3" y1="121.1" x2="68.8" y2="128.3" stroke="#111" stroke-width="0.9"/>
<line x1="85.3" y1="128.1" x2="72.8" y2="135.3" stroke="#111" stroke-width="0.9"/>
<path d="M80.3 121.5 Q80.8 126.0 84.5 128.7M78.8 122.4 Q79.2 127.0 83.0 129.6M77.2 123.3 Q77.7 127.8 81.4 130.5M75.6 124.2 Q76.1 128.8 79.8 131.4M74.1 125.1 Q74.5 129.7 78.3 132.3M72.5 126.0 Q73.0 130.6 76.7 133.2M71.0 126.9 Q71.4 131.4 75.2 134.1" fill="none" stroke="#222" stroke-width="1.0" stroke-linejoin="round" stroke-linecap="round"/>
<ellipse cx="69.1" cy="132.8" rx="3.8" ry="10" fill="#fff" stroke="#111" stroke-width="1.0" transform="rotate(-30 69.1 132.8)"/>
<ellipse cx="67.7" cy="133.6" rx="3.8" ry="10" fill="#fff" stroke="#111" stroke-width="1.1" transform="rotate(-30 67.7 133.6)"/>
<ellipse cx="66.4" cy="134.7" rx="2.9" ry="7.6" fill="#fff" stroke="#111" stroke-width="1.8" transform="rotate(-30 66.4 134.7)"/>
<path d="M62.5 128.5 L60.7 129.5 L67.7 141.7 L69.5 140.6 Z" fill="#fff" stroke="#fff" stroke-width="0.01" stroke-linejoin="round"/>
<line x1="62.5" y1="128.5" x2="60.7" y2="129.5" stroke="#111" stroke-width="1.1"/>
<line x1="69.5" y1="140.6" x2="67.7" y2="141.7" stroke="#111" stroke-width="1.1"/>
<ellipse cx="64.2" cy="135.6" rx="2.7" ry="7" fill="#fff" stroke="#111" stroke-width="1.3" transform="rotate(-30 64.2 135.6)"/>
<path d="M59.9 130 L48.9 136.4 L55.9 148.5 L66.9 142.1 Z" fill="#fff" stroke="#fff" stroke-width="0.01" stroke-linejoin="round"/>
<line x1="59.9" y1="130" x2="48.9" y2="136.4" stroke="#111" stroke-width="1.0"/>
<line x1="66.9" y1="142.1" x2="55.9" y2="148.5" stroke="#111" stroke-width="1.0"/>
<ellipse cx="52.4" cy="142.4" rx="5" ry="7" fill="#fff" stroke="#111" stroke-width="1.2" transform="rotate(-30 52.4 142.4)"/>
<path d="M57.8 131.2 A5 7 -30 0 1 64.8 143.4" fill="none" stroke="#111" stroke-width="0.9" stroke-linejoin="round" stroke-linecap="round"/>
<path d="M55.9 132.3 A5 7 -30 0 1 62.9 144.5" fill="none" stroke="#111" stroke-width="0.9" stroke-linejoin="round" stroke-linecap="round"/>
<ellipse cx="52.7" cy="142.4" rx="3.5" ry="5.4" fill="none" stroke="#111" stroke-width="1.0" transform="rotate(-30 52.7 142.4)"/>
<line x1="50" y1="137.8" x2="54.7" y2="147.1" stroke="#111" stroke-width="1.0"/>
<line x1="48.8" y1="143.2" x2="56" y2="141.6" stroke="#111" stroke-width="1.0"/>
<ellipse cx="54.6" cy="134.7" rx="2.2" ry="1.2" fill="#fff" stroke="#111" stroke-width="0.9" transform="rotate(30 54.6 134.7)"/>
<line x1="28.2" y1="247.2" x2="67.8" y2="270.3" stroke="#111" stroke-width="0.9"/>
<ellipse cx="78.9" cy="278.8" rx="15.8" ry="19.6" fill="#fff" stroke="#111" stroke-width="1.0"/>
<path d="M92.1 265.2 L78.9 259.2 L78.9 298.4 L92.1 304.4 Z" fill="#fff" stroke="#fff" stroke-width="0.01" stroke-linejoin="round"/>
<line x1="97.5" y1="266.4" x2="84.3" y2="260.4" stroke="#111" stroke-width="1.0"/>
<line x1="86.7" y1="303.2" x2="73.5" y2="297.2" stroke="#111" stroke-width="1.0"/>
<ellipse cx="92.1" cy="284.8" rx="15.8" ry="19.6" fill="#fff" stroke="#111" stroke-width="1.0"/>
<ellipse cx="96.8" cy="288.2" rx="8.4" ry="10.4" fill="none" stroke="#111" stroke-width="0.9"/>
<ellipse cx="97" cy="288.2" rx="4.9" ry="5.7" fill="none" stroke="#111" stroke-width="0.9"/>
<line x1="95.1" y1="285.6" x2="136.1" y2="309.5" stroke="#111" stroke-width="0.9"/>
<path d="M48.8 256.2 L45.2 261.3 L38.9 260.8 L36.2 255.2 L39.8 250.1 L46.1 250.6 Z" fill="#fff" stroke="#111" stroke-width="1.7" stroke-linejoin="round"/>
<ellipse cx="43" cy="255.7" rx="3.9" ry="4.3" fill="none" stroke="#222" stroke-width="2.0"/>
<circle cx="43.1" cy="255.7" r="1.1" fill="#fff" stroke="#111" stroke-width="0.6"/>
<line x1="46.1" y1="250.6" x2="44.7" y2="253.1" stroke="#111" stroke-width="1.0"/>
<ellipse cx="138.1" cy="311.9" rx="1.5" ry="4" fill="#fff" stroke="#111" stroke-width="0.9" transform="rotate(30 138.1 311.9)"/>
<path d="M140.1 308.4 L152.6 315.6 L148.6 322.6 L136.1 315.4 Z" fill="#fff" stroke="#fff" stroke-width="0.01" stroke-linejoin="round"/>
<line x1="140.1" y1="308.4" x2="152.6" y2="315.6" stroke="#111" stroke-width="0.9"/>
<line x1="136.1" y1="315.4" x2="148.6" y2="322.6" stroke="#111" stroke-width="0.9"/>
<path d="M141.1 308.8 Q140.6 313.4 136.9 316.0M142.6 309.7 Q142.2 314.2 138.4 316.9M144.2 310.6 Q143.7 315.2 140.0 317.8M145.8 311.5 Q145.3 316.1 141.6 318.7M147.3 312.4 Q146.9 317.0 143.1 319.6M148.9 313.3 Q148.4 317.9 144.7 320.5M150.4 314.2 Q150.0 318.8 146.2 321.4" fill="none" stroke="#222" stroke-width="1.0" stroke-linejoin="round" stroke-linecap="round"/>
<ellipse cx="152.3" cy="320.1" rx="3.8" ry="10" fill="#fff" stroke="#111" stroke-width="1.0" transform="rotate(30 152.3 320.1)"/>
<ellipse cx="153.7" cy="320.9" rx="3.8" ry="10" fill="#fff" stroke="#111" stroke-width="1.1" transform="rotate(30 153.7 320.9)"/>
<ellipse cx="155" cy="322" rx="2.9" ry="7.6" fill="#fff" stroke="#111" stroke-width="1.8" transform="rotate(30 155 322)"/>
<path d="M158.9 315.8 L160.7 316.8 L153.7 329 L151.9 327.9 Z" fill="#fff" stroke="#fff" stroke-width="0.01" stroke-linejoin="round"/>
<line x1="158.9" y1="315.8" x2="160.7" y2="316.8" stroke="#111" stroke-width="1.1"/>
<line x1="151.9" y1="327.9" x2="153.7" y2="329" stroke="#111" stroke-width="1.1"/>
<ellipse cx="157.2" cy="322.9" rx="2.7" ry="7" fill="#fff" stroke="#111" stroke-width="1.3" transform="rotate(30 157.2 322.9)"/>
<path d="M161.5 317.3 L172.5 323.7 L165.5 335.8 L154.5 329.4 Z" fill="#fff" stroke="#fff" stroke-width="0.01" stroke-linejoin="round"/>
<line x1="161.5" y1="317.3" x2="172.5" y2="323.7" stroke="#111" stroke-width="1.0"/>
<line x1="154.5" y1="329.4" x2="165.5" y2="335.8" stroke="#111" stroke-width="1.0"/>
<ellipse cx="169" cy="329.8" rx="5" ry="7" fill="#fff" stroke="#111" stroke-width="1.2" transform="rotate(30 169 329.8)"/>
<path d="M163.6 318.5 A5 7 30 0 0 156.6 330.7" fill="none" stroke="#111" stroke-width="0.9" stroke-linejoin="round" stroke-linecap="round"/>
<path d="M165.5 319.6 A5 7 30 0 0 158.5 331.8" fill="none" stroke="#111" stroke-width="0.9" stroke-linejoin="round" stroke-linecap="round"/>
<ellipse cx="168.7" cy="329.8" rx="3.5" ry="5.4" fill="none" stroke="#111" stroke-width="1.0" transform="rotate(30 168.7 329.8)"/>
<line x1="171.4" y1="325.1" x2="166.7" y2="334.4" stroke="#111" stroke-width="1.0"/>
<line x1="165.4" y1="328.9" x2="172.6" y2="330.6" stroke="#111" stroke-width="1.0"/>
<ellipse cx="166.8" cy="322" rx="2.2" ry="1.2" fill="#fff" stroke="#111" stroke-width="0.9" transform="rotate(-30 166.8 322)"/>
<line x1="87.3" y1="428" x2="87.3" y2="531" stroke="#111" stroke-width="1.0"/>
<path d="M81.3 419.5 L84.3 417.2 L90.3 417.2 L93.4 419.5 L93.4 426.2 L90.3 428.4 L84.3 428.4 L81.3 426.2 Z" fill="#fff" stroke="#111" stroke-width="1.3" stroke-linejoin="round"/>
<ellipse cx="87.3" cy="420.2" rx="5.6" ry="2.8" fill="none" stroke="#111" stroke-width="1.1"/>
<ellipse cx="87.3" cy="420.2" rx="2.6" ry="1.3" fill="none" stroke="#111" stroke-width="0.9"/>
<line x1="84.3" y1="422.6" x2="84.3" y2="428.2" stroke="#111" stroke-width="0.8"/>
<line x1="90.3" y1="422.6" x2="90.3" y2="428.2" stroke="#111" stroke-width="0.8"/>
<ellipse cx="87.3" cy="446.9" rx="5.6" ry="3.4" fill="#fff" stroke="#111" stroke-width="1.8"/>
<ellipse cx="87.3" cy="446.9" rx="2.2" ry="1.4" fill="#fff" stroke="#111" stroke-width="1.0"/>
<line x1="84" y1="445" x2="90.5" y2="449" stroke="#111" stroke-width="0.9"/>
<ellipse cx="87.3" cy="467.8" rx="7.2" ry="4.5" fill="#fff" stroke="#111" stroke-width="1.2"/>
<ellipse cx="87.3" cy="467.8" rx="3.2" ry="2" fill="#fff" stroke="#111" stroke-width="1.08"/>
<path d="M114.9 477.3 L129.2 488.8 Q120 492.5 113.8 497.6 Q109 504 105 507.5 Q96 511.5 87.3 513 Q81 516 77.4 519.6 Q73.5 524 70.8 528.5 L66.4 528.5 Q67.5 521 69.7 515.2 Q72.3 509 75.2 504.2 L79.6 498.7 Z" fill="#fff" stroke="#111" stroke-width="1.1" stroke-linejoin="round" stroke-linecap="round"/>
<path d="M79.6 498.7 L82.8 496 L114.9 478.8 M80.5 500.2 L85.5 507.2 L93 508.4 M85.5 507.2 Q80 511 76.5 517" fill="none" stroke="#111" stroke-width="0.9" stroke-linejoin="round" stroke-linecap="round"/>
<line x1="82.8" y1="496" x2="84.8" y2="499.5" stroke="#111" stroke-width="0.8"/>
<line x1="86.8" y1="505.8" x2="95" y2="492.3" stroke="#333" stroke-width="2.6" stroke-linecap="butt" stroke-dasharray="1.1 0.5"/>
<line x1="85.5" y1="505.2" x2="93.7" y2="491.7" stroke="#111" stroke-width="0.7"/>
<line x1="88.1" y1="506.4" x2="96.3" y2="492.9" stroke="#111" stroke-width="0.7"/>
<line x1="98.8" y1="505" x2="112.5" y2="482.5" stroke="#333" stroke-width="2.6" stroke-linecap="butt" stroke-dasharray="1.1 0.5"/>
<line x1="97.5" y1="504.4" x2="111.2" y2="481.9" stroke="#111" stroke-width="0.7"/>
<line x1="100.1" y1="505.6" x2="113.8" y2="483.1" stroke="#111" stroke-width="0.7"/>
<line x1="87.3" y1="497" x2="87.3" y2="531" stroke="#111" stroke-width="1.0"/>
<rect x="84.1" y="529.8" width="6.4" height="10" fill="#fff" stroke="#111" stroke-width="1.0"/>
<line x1="84.1" y1="531.5" x2="90.5" y2="532.3" stroke="#111" stroke-width="0.9"/>
<line x1="84.1" y1="533.3" x2="90.5" y2="534.1" stroke="#111" stroke-width="0.9"/>
<line x1="84.1" y1="535.1" x2="90.5" y2="535.9" stroke="#111" stroke-width="0.9"/>
<path d="M81.1 541.5 L84.3 539.5 L90.5 539.5 L93.9 541.5 L93.9 547 L90.5 549.6 L84.3 549.6 L81.1 547 Z" fill="#fff" stroke="#111" stroke-width="1.2" stroke-linejoin="round"/>
<line x1="84.3" y1="543.5" x2="84.3" y2="549.4" stroke="#111" stroke-width="0.8"/>
<line x1="90.5" y1="543.5" x2="90.5" y2="549.4" stroke="#111" stroke-width="0.8"/>
<path d="M81.1 541.5 Q87.5 545.5 93.9 541.5" fill="none" stroke="#111" stroke-width="0.9" stroke-linejoin="round" stroke-linecap="round"/>
<line x1="88.4" y1="557.8" x2="227.5" y2="642" stroke="#111" stroke-width="0.9"/>
<path d="M101.8 565.2 L98.4 568 L94.2 566.5 L93.4 562.2 L96.8 559.4 L101 560.9 Z" fill="#fff" stroke="#111" stroke-width="1.7" stroke-linejoin="round"/>
<ellipse cx="98.1" cy="563.7" rx="2.8" ry="3.1" fill="none" stroke="#222" stroke-width="2.0"/>
<circle cx="98.2" cy="563.7" r="0.8" fill="#fff" stroke="#111" stroke-width="0.6"/>
<line x1="101" y1="560.9" x2="99.6" y2="563.4" stroke="#111" stroke-width="1.0"/>
<ellipse cx="114.5" cy="573.5" rx="3" ry="3.6" fill="#fff" stroke="#111" stroke-width="1.8" transform="rotate(-25 114.5 573.5)"/>
<ellipse cx="114.5" cy="573.5" rx="1.2" ry="1.4" fill="#fff" stroke="#111" stroke-width="1.0" transform="rotate(-25 114.5 573.5)"/>
<ellipse cx="129.6" cy="582" rx="3.7" ry="5.2" fill="#fff" stroke="#111" stroke-width="1.2" transform="rotate(-25 129.6 582)"/>
<ellipse cx="129.6" cy="582" rx="1.7" ry="2.3" fill="#fff" stroke="#111" stroke-width="1.08" transform="rotate(-25 129.6 582)"/>
<line x1="47.4" y1="625.4" x2="174.2" y2="599.3" stroke="#111" stroke-width="0.9"/>
<path d="M69.6 622.9 L65.6 626.8 L60.2 625.4 L58.8 620.1 L62.8 616.2 L68.2 617.6 Z" fill="#fff" stroke="#111" stroke-width="1.7" stroke-linejoin="round"/>
<ellipse cx="64.7" cy="621.5" rx="3.5" ry="3.8" fill="none" stroke="#222" stroke-width="2.0"/>
<circle cx="64.8" cy="621.5" r="1" fill="#fff" stroke="#111" stroke-width="0.6"/>
<line x1="68.2" y1="617.6" x2="66.8" y2="620.1" stroke="#111" stroke-width="1.0"/>
<ellipse cx="86.9" cy="617.1" rx="4" ry="5.5" fill="#fff" stroke="#111" stroke-width="1.8" transform="rotate(-8 86.9 617.1)"/>
<ellipse cx="86.9" cy="617.1" rx="1.6" ry="2.2" fill="#fff" stroke="#111" stroke-width="1.0" transform="rotate(-8 86.9 617.1)"/>
<line x1="84.5" y1="614.5" x2="89" y2="620" stroke="#111" stroke-width="0.9"/>
<ellipse cx="115" cy="610.8" rx="4.8" ry="7.3" fill="#fff" stroke="#111" stroke-width="1.2" transform="rotate(-8 115 610.8)"/>
<ellipse cx="115" cy="610.8" rx="1.9" ry="2.9" fill="#fff" stroke="#111" stroke-width="1.08" transform="rotate(-8 115 610.8)"/>
<line x1="183.8" y1="544.2" x2="307.9" y2="616.3" stroke="#111" stroke-width="0.9"/>
<path d="M173.5 535.6 L185.2 542.1 L184.3 545.4 L182 547.9 L170.3 541.3" fill="#fff" stroke="#111" stroke-width="1.0" stroke-linejoin="round"/>
<path d="M174.0 535.8 L171.5 542.0M175.3 536.6 L172.8 542.8M176.6 537.3 L174.1 543.5M177.9 538.0 L175.4 544.2M179.2 538.8 L176.8 545.0M180.5 539.5 L178.1 545.7M181.8 540.2 L179.4 546.4M183.1 541.0 L180.7 547.1M184.4 541.7 L182.0 547.9" fill="none" stroke="#222" stroke-width="0.9" stroke-linejoin="round" stroke-linecap="round"/>
<path d="M174 540.8 L169.8 542.6 L166.3 539.4 L167 534.5 L171.2 532.7 L174.7 535.9 Z" fill="#fff" stroke="#111" stroke-width="1.0" stroke-linejoin="round"/>
<path d="M172.1 539.8 L167.9 541.5 L164.4 538.4 L165.1 533.4 L169.3 531.7 L172.8 534.8 Z" fill="#fff" stroke="#111" stroke-width="1.1" stroke-linejoin="round"/>
<path d="M158.2 573.0 L161.4 571.7 L169.9 577.9 L172.0 579.4 L208.3 558.0 L209.4 555.3" fill="none" stroke="#111" stroke-width="1.1" stroke-linejoin="round" stroke-linecap="round"/>
<path d="M196.6 551.9 L209.4 555.3 L208.3 558.7" fill="none" stroke="#111" stroke-width="1.2" stroke-linejoin="round"/>
<path d="M175.2 578.8 L207.9 560.4" fill="none" stroke="#111" stroke-width="0.9" stroke-linejoin="round"/>
<path d="M172 579.4 L175.2 578.8 L174.2 575.8" fill="none" stroke="#111" stroke-width="0.9" stroke-linejoin="round"/>
<path d="M158.2 573.0 Q162.4 581.5 165.6 586.9 Q171.0 595.4 174.2 604.0 Q178.4 615.7 185.9 620.6 L222.2 598.0 L210.5 559.5" fill="none" stroke="#111" stroke-width="1.1" stroke-linejoin="round" stroke-linecap="round"/>
<line x1="178.4" y1="582.6" x2="187" y2="612.5" stroke="#111" stroke-width="3.0"/>
<line x1="178.4" y1="582.6" x2="187" y2="612.5" stroke="#bbb" stroke-width="1.2"/>
<line x1="193.4" y1="574.1" x2="201.9" y2="604" stroke="#111" stroke-width="3.0"/>
<line x1="193.4" y1="574.1" x2="201.9" y2="604" stroke="#bbb" stroke-width="1.2"/>
<line x1="208.3" y1="565.1" x2="217.3" y2="595.4" stroke="#111" stroke-width="3.0"/>
<line x1="208.3" y1="565.1" x2="217.3" y2="595.4" stroke="#bbb" stroke-width="1.2"/>
<circle cx="188" cy="615.1" r="0.6" fill="#111" stroke="#111" stroke-width="0.4"/>
<circle cx="203.6" cy="607.4" r="0.6" fill="#111" stroke="#111" stroke-width="0.4"/>
<circle cx="219" cy="598.4" r="0.6" fill="#111" stroke="#111" stroke-width="0.4"/>
<path d="M197.7 626.4 L235 605.5 L235.7 607.8 L198.9 629.2 Z" fill="#fff" stroke="#111" stroke-width="1.0" stroke-linejoin="round"/>
<circle cx="216.4" cy="617.4" r="0.5" fill="#111" stroke="#111" stroke-width="0.4"/>
<path d="M233.2 644.7 L225.6 639.9 L226.3 637.2 L228.4 635.3 L236.1 640.2" fill="#fff" stroke="#111" stroke-width="1.0" stroke-linejoin="round"/>
<path d="M234.9 645.8 L237.0 640.8M233.6 645.0 L235.8 640.0M232.4 644.2 L234.5 639.2M231.1 643.4 L233.2 638.4M229.8 642.6 L232.0 637.6M228.6 641.8 L230.7 636.8M227.3 641.0 L229.4 636.0M226.0 640.2 L228.2 635.2" fill="none" stroke="#222" stroke-width="0.9" stroke-linejoin="round" stroke-linecap="round"/>
<path d="M232.6 640.1 L236.4 638.7 L239.3 641.7 L238.5 646 L234.7 647.3 L231.8 644.4 Z" fill="#fff" stroke="#111" stroke-width="1.0" stroke-linejoin="round"/>
<path d="M234.5 641.2 L238.3 639.9 L241.2 642.9 L240.3 647.2 L236.5 648.5 L233.6 645.5 Z" fill="#fff" stroke="#111" stroke-width="1.1" stroke-linejoin="round"/>
<path d="M230.3 476.8 L284.2 465.5 L284.2 454.5 L290.8 451.8 L291.6 466.3 L285.5 469.5 L242.1 479.5" fill="none" stroke="#111" stroke-width="1.1" stroke-linejoin="round"/>
<path d="M230.3 476.8 L240.8 478.9 L241.6 486.8 L234.2 489.5 L230.3 476.8" fill="none" stroke="#111" stroke-width="1.1" stroke-linejoin="round"/>
<path d="M284.2 465.5 L285.5 469.5" fill="none" stroke="#111" stroke-width="0.9" stroke-linejoin="round"/>
<path d="M285.8 455.3 L286.3 468.4" fill="none" stroke="#111" stroke-width="0.8" stroke-linejoin="round"/>
<rect x="-1" y="-3.2" width="2" height="6.4" rx="1" fill="none" stroke="#111" stroke-width="1.1" transform="translate(288.7 460.3) rotate(-3)"/>
<circle cx="236.8" cy="480.8" r="0.7" fill="none" stroke="#111" stroke-width="0.6"/>
<circle cx="237.6" cy="484.2" r="0.7" fill="none" stroke="#111" stroke-width="0.6"/>
<path d="M234.2 486.1 L210.5 490 L236.8 584.7 L201.3 592.6" fill="none" stroke="#111" stroke-width="0.9" stroke-linejoin="round"/>
<path d="M242.1 483.4 L248.7 501.8 L265.8 500" fill="none" stroke="#111" stroke-width="0.9" stroke-linejoin="round"/>
<path d="M278 498.5 L267.3 501.7 L265.5 498.5 L265.3 494.9 L276 491.8" fill="#fff" stroke="#111" stroke-width="1.0" stroke-linejoin="round"/>
<path d="M281.5 497.5 L278.7 491.0M280.1 497.9 L277.3 491.4M278.7 498.3 L275.8 491.9M277.2 498.7 L274.4 492.3M275.8 499.2 L272.9 492.7M274.3 499.6 L271.5 493.1M272.9 500.0 L270.1 493.5M271.5 500.4 L268.6 494.0M270.0 500.9 L267.2 494.4M268.6 501.3 L265.7 494.8" fill="none" stroke="#222" stroke-width="0.9" stroke-linejoin="round" stroke-linecap="round"/>
<path d="M273.8 495.2 L276 489.7 L281.4 489 L284.6 493.9 L282.4 499.4 L277 500 Z" fill="#fff" stroke="#111" stroke-width="1.0" stroke-linejoin="round"/>
<path d="M275.9 494.6 L278.1 489.1 L283.5 488.4 L286.7 493.2 L284.5 498.7 L279.1 499.4 Z" fill="#fff" stroke="#111" stroke-width="1.1" stroke-linejoin="round"/>
<ellipse cx="252.1" cy="584.2" rx="5.2" ry="7.2" fill="#fff" stroke="#111" stroke-width="1.2" transform="rotate(-25 252.1 584.2)"/>
<ellipse cx="252.1" cy="584.2" rx="2.2" ry="3" fill="#fff" stroke="#111" stroke-width="1.08" transform="rotate(-25 252.1 584.2)"/>
<ellipse cx="271.1" cy="595.3" rx="4.2" ry="5.2" fill="#fff" stroke="#111" stroke-width="1.8" transform="rotate(-25 271.1 595.3)"/>
<ellipse cx="271.1" cy="595.3" rx="1.7" ry="2.1" fill="#fff" stroke="#111" stroke-width="1.0" transform="rotate(-25 271.1 595.3)"/>
<path d="M299.7 610.3 L295.2 614 L289.8 612.1 L288.7 606.5 L293.2 602.8 L298.6 604.7 Z" fill="#fff" stroke="#111" stroke-width="1.7" stroke-linejoin="round"/>
<ellipse cx="294.7" cy="608.4" rx="3.6" ry="3.9" fill="none" stroke="#222" stroke-width="2.0"/>
<circle cx="294.8" cy="608.4" r="1" fill="#fff" stroke="#111" stroke-width="0.6"/>
<line x1="298.6" y1="604.7" x2="297.2" y2="607.2" stroke="#111" stroke-width="1.0"/>
<line x1="313.7" y1="593.2" x2="299.5" y2="609.5" stroke="#111" stroke-width="0.9"/>
<line x1="441.3" y1="620.5" x2="492.2" y2="590.3" stroke="#111" stroke-width="0.9"/>
<path d="M492.2 590.3 L500.8 605.8 L510.2 600.6" fill="none" stroke="#111" stroke-width="0.9" stroke-linejoin="round"/>
<line x1="464.6" y1="636" x2="577.4" y2="570.5" stroke="#111" stroke-width="0.9"/>
<path d="M498.2 592.6 L558.8 568.1 Q563.7 567.1 565.7 570.5 L571.4 583.9 Q572.8 587.7 569.7 588.9 L508.9 613.6 L507.7 611.0" fill="#fff" stroke="#111" stroke-width="1.1" stroke-linejoin="round" stroke-linecap="round"/>
<path d="M498.2 592.6 L499.6 594.8 L558.1 570.8 Q561.9 569.8 563.7 573.1 L568.5 584.3 Q569.5 586.7 567.4 587.2 L510.2 610.6" fill="none" stroke="#111" stroke-width="0.9" stroke-linejoin="round" stroke-linecap="round"/>
<path d="M499.6 594.8 L508.9 611 L510.2 610.6" fill="none" stroke="#111" stroke-width="0.9" stroke-linejoin="round"/>
<path d="M511.1 608.2 L566.8 584.6" fill="none" stroke="#111" stroke-width="0.9" stroke-linejoin="round"/>
<path d="M508.5 612.5 L569.2 587.9" fill="none" stroke="#111" stroke-width="0.7" stroke-linejoin="round"/>
<ellipse cx="511.6" cy="600.1" rx="1.5" ry="2" fill="none" stroke="#111" stroke-width="1.1" transform="rotate(-25 511.6 600.1)"/>
<ellipse cx="560.2" cy="580.8" rx="1.5" ry="2" fill="none" stroke="#111" stroke-width="1.1" transform="rotate(-25 560.2 580.8)"/>
<line x1="508.5" y1="610.7" x2="560.2" y2="580.8" stroke="#111" stroke-width="0.9"/>
<line x1="571.2" y1="574.2" x2="577.4" y2="570.5" stroke="#111" stroke-width="0.9"/>
<path d="M419.2 628.4 L438.4 617.2 L440.9 619.9 L442 623.4 L422.9 634.6" fill="#fff" stroke="#111" stroke-width="1.0" stroke-linejoin="round"/>
<path d="M426.7 624.0 L431.1 629.8M428.0 623.2 L432.4 629.0M429.3 622.5 L433.7 628.2M430.6 621.7 L435.0 627.5M431.9 621.0 L436.3 626.7M433.2 620.2 L437.6 626.0M434.5 619.5 L438.9 625.2M435.8 618.7 L440.2 624.5M437.1 617.9 L441.5 623.7" fill="none" stroke="#222" stroke-width="0.9" stroke-linejoin="round" stroke-linecap="round"/>
<path d="M424.2 630.6 L423.2 636.9 L417.8 639.1 L413.4 635 L414.4 628.7 L419.8 626.5 Z" fill="#fff" stroke="#111" stroke-width="1.0" stroke-linejoin="round"/>
<path d="M422.3 631.7 L421.3 638 L415.9 640.2 L411.5 636.1 L412.5 629.8 L417.9 627.6 Z" fill="#fff" stroke="#111" stroke-width="1.1" stroke-linejoin="round"/>
<path d="M443.1 643.9 L462.2 632.9 L464.7 635.6 L465.8 639.1 L446.7 650.1" fill="#fff" stroke="#111" stroke-width="1.0" stroke-linejoin="round"/>
<path d="M450.6 639.6 L454.9 645.4M451.9 638.8 L456.2 644.6M453.2 638.1 L457.5 643.9M454.5 637.3 L458.8 643.1M455.8 636.6 L460.1 642.4M457.1 635.8 L461.4 641.6M458.4 635.1 L462.7 640.9M459.7 634.3 L464.0 640.1M461.0 633.6 L465.3 639.4" fill="none" stroke="#222" stroke-width="0.9" stroke-linejoin="round" stroke-linecap="round"/>
<path d="M448 646.1 L447 652.4 L441.6 654.6 L437.2 650.5 L438.2 644.2 L443.6 642 Z" fill="#fff" stroke="#111" stroke-width="1.0" stroke-linejoin="round"/>
<path d="M446.1 647.2 L445.1 653.5 L439.7 655.7 L435.3 651.6 L436.3 645.3 L441.7 643.1 Z" fill="#fff" stroke="#111" stroke-width="1.1" stroke-linejoin="round"/>
<ellipse cx="451.7" cy="613.6" rx="3.2" ry="4" fill="#fff" stroke="#111" stroke-width="1.8" transform="rotate(-25 451.7 613.6)"/>
<ellipse cx="451.7" cy="613.6" rx="1.3" ry="1.6" fill="#fff" stroke="#111" stroke-width="1.0" transform="rotate(-25 451.7 613.6)"/>
<ellipse cx="470.6" cy="602.4" rx="4" ry="5.3" fill="#fff" stroke="#111" stroke-width="1.2" transform="rotate(-25 470.6 602.4)"/>
<ellipse cx="470.6" cy="602.4" rx="1.8" ry="2.4" fill="#fff" stroke="#111" stroke-width="1.08" transform="rotate(-25 470.6 602.4)"/>
<ellipse cx="474.9" cy="629.4" rx="3.2" ry="4" fill="#fff" stroke="#111" stroke-width="1.8" transform="rotate(-25 474.9 629.4)"/>
<ellipse cx="474.9" cy="629.4" rx="1.3" ry="1.6" fill="#fff" stroke="#111" stroke-width="1.0" transform="rotate(-25 474.9 629.4)"/>
<ellipse cx="494.2" cy="618.4" rx="4" ry="5.3" fill="#fff" stroke="#111" stroke-width="1.2" transform="rotate(-25 494.2 618.4)"/>
<ellipse cx="494.2" cy="618.4" rx="1.8" ry="2.4" fill="#fff" stroke="#111" stroke-width="1.08" transform="rotate(-25 494.2 618.4)"/>
<path d="M646.8 424.8 L657.8 418.2 L659.5 421.2 L648.6 427.8 Z" fill="none" stroke="#111" stroke-width="1.1" stroke-linejoin="round"/>
<line x1="648.6" y1="425.2" x2="657.6" y2="420" stroke="#111" stroke-width="0.7"/>
<path d="M572.3 355 L562 360.1 L555.6 367.8 L552.4 366.5 L556.9 350.5" fill="none" stroke="#111" stroke-width="0.9" stroke-linejoin="round"/>
<path d="M599.8 371 Q606 380 609.4 386.3 Q611.5 394 613.2 399.1 Q615 403.5 618.3 404.9 L638.8 392.7" fill="none" stroke="#111" stroke-width="0.9" stroke-linejoin="round" stroke-linecap="round"/>
<path d="M612.9 379.8 L615.2 378.8 L622.7 399.9 L620.4 400.9 Z" fill="none" stroke="#111" stroke-width="1.0" stroke-linejoin="round"/>
<line x1="614.2" y1="380.2" x2="621.4" y2="400" stroke="#555" stroke-width="0.9"/>
<path d="M628.2 388.1 L630.3 387.2 L633.4 393.6 L631.3 394.5 Z" fill="none" stroke="#111" stroke-width="1.0" stroke-linejoin="round"/>
<mask id="wmm" maskUnits="userSpaceOnUse" x="0" y="0" width="1074" height="703"><text class="wmo" transform="translate(286.7 640.5) rotate(-43.3) scale(1 0.85)" font-size="150" textLength="750" lengthAdjust="spacingAndGlyphs" stroke-width="5.7">zap-kam.ru</text><text class="wmi" transform="translate(286.7 640.5) rotate(-43.3) scale(1 0.85)" font-size="150" textLength="750" lengthAdjust="spacingAndGlyphs" stroke-width="4.3">zap-kam.ru</text></mask>
<rect x="0" y="0" width="1074" height="703" fill="#2a2a2a" stroke="none" mask="url(#wmm)"/>
<rect x="11.5" y="17.5" width="193.5" height="164" fill="none" stroke="#111" stroke-width="1.1"/>
<rect x="11.5" y="206" width="193.5" height="163" fill="none" stroke="#111" stroke-width="1.1"/>
<rect x="11.5" y="396.5" width="339" height="299" fill="none" stroke="#111" stroke-width="1.1"/>
<rect x="390.5" y="531.5" width="193" height="164" fill="none" stroke="#111" stroke-width="1.1"/>
<g opacity="0.999">
<text x="139.5" y="52.4" font-size="18.3" textLength="16.6" lengthAdjust="spacingAndGlyphs">19</text>
<text x="91.4" y="65.3" font-size="18.3" textLength="16.6" lengthAdjust="spacingAndGlyphs">18</text>
<text x="30.3" y="113" font-size="18.3" textLength="16.6" lengthAdjust="spacingAndGlyphs">17</text>
<text x="181.9" y="166" font-size="18.3" textLength="7.5" lengthAdjust="spacingAndGlyphs">A</text>
<text x="64.1" y="239.7" font-size="18.3" textLength="16.6" lengthAdjust="spacingAndGlyphs">19</text>
<text x="111.6" y="252.5" font-size="18.3" textLength="16.6" lengthAdjust="spacingAndGlyphs">20</text>
<text x="172.2" y="300.3" font-size="18.3" textLength="16.6" lengthAdjust="spacingAndGlyphs">17</text>
<text x="20.4" y="359.5" font-size="18.3" textLength="7.5" lengthAdjust="spacingAndGlyphs">B</text>
<text x="44.4" y="428.3" font-size="18.3" textLength="16.6" lengthAdjust="spacingAndGlyphs">16</text>
<text x="44.4" y="452.6" font-size="18.3" textLength="16.6" lengthAdjust="spacingAndGlyphs">15</text>
<text x="44.4" y="474" font-size="18.3" textLength="16.6" lengthAdjust="spacingAndGlyphs">21</text>
<text x="138.5" y="473.5" font-size="18.3" textLength="16.6" lengthAdjust="spacingAndGlyphs">23</text>
<text x="44.4" y="548.9" font-size="18.3" textLength="16.6" lengthAdjust="spacingAndGlyphs">22</text>
<text x="61.4" y="584.7" font-size="18.3" textLength="16.6" lengthAdjust="spacingAndGlyphs">24</text>
<text x="80.6" y="597.7" font-size="18.3" textLength="16.6" lengthAdjust="spacingAndGlyphs">25</text>
<text x="150.7" y="568.7" font-size="18.3" textLength="16.6" lengthAdjust="spacingAndGlyphs">26</text>
<text x="190.6" y="524.7" font-size="18.3" textLength="16.6" lengthAdjust="spacingAndGlyphs">22</text>
<text x="231.5" y="461.8" font-size="18.3" textLength="16.6" lengthAdjust="spacingAndGlyphs">30</text>
<text x="304.7" y="519.7" font-size="18.3" textLength="16.6" lengthAdjust="spacingAndGlyphs">22</text>
<text x="275.7" y="572.3" font-size="18.3" textLength="16.6" lengthAdjust="spacingAndGlyphs">21</text>
<text x="294.1" y="583.6" font-size="18.3" textLength="16.6" lengthAdjust="spacingAndGlyphs">15</text>
<text x="313.9" y="598.1" font-size="18.3" textLength="16.6" lengthAdjust="spacingAndGlyphs">16</text>
<text x="146.9" y="634.1" font-size="18.3" textLength="16.6" lengthAdjust="spacingAndGlyphs">27</text>
<text x="165" y="646.9" font-size="18.3" textLength="16.6" lengthAdjust="spacingAndGlyphs">28</text>
<text x="198.1" y="663" font-size="18.3" textLength="16.6" lengthAdjust="spacingAndGlyphs">29</text>
<text x="108.9" y="650.2" font-size="18.3" textLength="16.6" lengthAdjust="spacingAndGlyphs">14</text>
<text x="81.9" y="654.6" font-size="18.3" textLength="16.6" lengthAdjust="spacingAndGlyphs">15</text>
<text x="57.9" y="659.1" font-size="18.3" textLength="16.6" lengthAdjust="spacingAndGlyphs">16</text>
<text x="333.9" y="687" font-size="18.3" textLength="7.5" lengthAdjust="spacingAndGlyphs">C</text>
<text x="402" y="610.3" font-size="18.3" textLength="16.6" lengthAdjust="spacingAndGlyphs">31</text>
<text x="418.7" y="600.3" font-size="18.3" textLength="16.6" lengthAdjust="spacingAndGlyphs">32</text>
<text x="436.4" y="589.7" font-size="18.3" textLength="16.6" lengthAdjust="spacingAndGlyphs">33</text>
<text x="557" y="618.9" font-size="18.3" textLength="16.6" lengthAdjust="spacingAndGlyphs">10</text>
<text x="514.5" y="643.9" font-size="18.3" textLength="16.6" lengthAdjust="spacingAndGlyphs">33</text>
<text x="494.1" y="654.3" font-size="18.3" textLength="16.6" lengthAdjust="spacingAndGlyphs">32</text>
<text x="467.4" y="668.9" font-size="18.3" textLength="16.6" lengthAdjust="spacingAndGlyphs">34</text>
<text x="567.4" y="687" font-size="18.3" textLength="7.5" lengthAdjust="spacingAndGlyphs">D</text>
<text x="672.9" y="210" font-size="18.3" textLength="8.3" lengthAdjust="spacingAndGlyphs">1</text>
<text x="794.9" y="157.7" font-size="18.3" textLength="8.3" lengthAdjust="spacingAndGlyphs">2</text>
<text x="789.9" y="249.7" font-size="18.3" textLength="8.3" lengthAdjust="spacingAndGlyphs">2</text>
<text x="872.4" y="92.7" font-size="18.3" textLength="8.3" lengthAdjust="spacingAndGlyphs">3</text>
<text x="866.4" y="149" font-size="18.3" textLength="8.3" lengthAdjust="spacingAndGlyphs">4</text>
<text x="866.4" y="172.3" font-size="18.3" textLength="8.3" lengthAdjust="spacingAndGlyphs">4</text>
<text x="924.9" y="187.7" font-size="18.3" textLength="8.3" lengthAdjust="spacingAndGlyphs">5</text>
<text x="924.9" y="202.7" font-size="18.3" textLength="8.3" lengthAdjust="spacingAndGlyphs">6</text>
<text x="924.9" y="218.3" font-size="18.3" textLength="8.3" lengthAdjust="spacingAndGlyphs">6</text>
<text x="978.9" y="172.7" font-size="18.3" textLength="8.3" lengthAdjust="spacingAndGlyphs">7</text>
<text x="351.4" y="268.5" font-size="18.3" textLength="7.5" lengthAdjust="spacingAndGlyphs">A</text>
<text x="441.9" y="330.7" font-size="18.3" textLength="16.6" lengthAdjust="spacingAndGlyphs">10</text>
<text x="367.5" y="399.2" font-size="18.3" textLength="31" lengthAdjust="spacingAndGlyphs">8(9)</text>
<text x="548.4" y="421.3" font-size="18.3" textLength="7.5" lengthAdjust="spacingAndGlyphs">C</text>
<text x="649.4" y="467.3" font-size="18.3" textLength="7.5" lengthAdjust="spacingAndGlyphs">D</text>
<text x="687.7" y="473" font-size="18.3" textLength="7.5" lengthAdjust="spacingAndGlyphs">B</text>
<text x="830" y="449.9" font-size="18.3" textLength="16.6" lengthAdjust="spacingAndGlyphs">11</text>
<text x="914.9" y="428" font-size="18.3" textLength="16.6" lengthAdjust="spacingAndGlyphs">16</text>
<text x="935.9" y="441.4" font-size="18.3" textLength="16.6" lengthAdjust="spacingAndGlyphs">15</text>
<text x="957" y="452.2" font-size="18.3" textLength="16.6" lengthAdjust="spacingAndGlyphs">14</text>
<text x="1021.4" y="489.9" font-size="18.3" textLength="16.6" lengthAdjust="spacingAndGlyphs">13</text>
<text x="954.1" y="572.2" font-size="18.3" textLength="16.6" lengthAdjust="spacingAndGlyphs">12</text>
</g>
<line x1="107.7" y1="66.7" x2="124" y2="76" stroke="#111" stroke-width="0.9"/>
<line x1="156" y1="53.3" x2="170.7" y2="62.7" stroke="#111" stroke-width="0.9"/>
<line x1="46.7" y1="114.3" x2="63.3" y2="124" stroke="#111" stroke-width="0.9"/>
<line x1="62.7" y1="241.2" x2="47.3" y2="250.6" stroke="#111" stroke-width="0.9"/>
<line x1="109.7" y1="254.4" x2="95.1" y2="262.9" stroke="#111" stroke-width="0.9"/>
<line x1="171.1" y1="302.2" x2="154.9" y2="311.2" stroke="#111" stroke-width="0.9"/>
<line x1="63.1" y1="423.1" x2="81.1" y2="423.1" stroke="#111" stroke-width="0.9"/>
<line x1="63.1" y1="447.3" x2="81.5" y2="447.3" stroke="#111" stroke-width="0.9"/>
<line x1="62" y1="468.3" x2="80.3" y2="468.3" stroke="#111" stroke-width="0.9"/>
<line x1="137.6" y1="475.1" x2="121.5" y2="483.9" stroke="#111" stroke-width="0.9"/>
<line x1="62" y1="544.5" x2="81.1" y2="544.5" stroke="#111" stroke-width="0.9"/>
<line x1="78.9" y1="575.2" x2="94" y2="566.7" stroke="#111" stroke-width="0.9"/>
<line x1="95.8" y1="586.3" x2="111.8" y2="576.7" stroke="#111" stroke-width="0.9"/>
<line x1="147.4" y1="568.1" x2="132.8" y2="578.8" stroke="#111" stroke-width="0.9"/>
<line x1="191.2" y1="525.4" x2="174.2" y2="533.9" stroke="#111" stroke-width="0.9"/>
<line x1="248.7" y1="461.1" x2="264.5" y2="469.5" stroke="#111" stroke-width="0.9"/>
<line x1="300" y1="508.9" x2="285.5" y2="500" stroke="#111" stroke-width="0.9"/>
<line x1="271.1" y1="568.9" x2="255.3" y2="579.5" stroke="#111" stroke-width="0.9"/>
<line x1="290.8" y1="582.1" x2="275" y2="591.3" stroke="#111" stroke-width="0.9"/>
<line x1="313.7" y1="592.6" x2="298.7" y2="605.3" stroke="#111" stroke-width="0.9"/>
<line x1="163.1" y1="624.2" x2="179.5" y2="614.6" stroke="#111" stroke-width="0.9"/>
<line x1="181.6" y1="637.1" x2="197.7" y2="627.4" stroke="#111" stroke-width="0.9"/>
<line x1="214.7" y1="653.1" x2="227.5" y2="645.6" stroke="#111" stroke-width="0.9"/>
<line x1="115.4" y1="618.3" x2="115.4" y2="636.6" stroke="#111" stroke-width="0.9"/>
<line x1="88.4" y1="623.3" x2="88.4" y2="641.1" stroke="#111" stroke-width="0.9"/>
<line x1="64.2" y1="627.7" x2="64.2" y2="645.5" stroke="#111" stroke-width="0.9"/>
<line x1="419.3" y1="609.8" x2="435.3" y2="618.7" stroke="#111" stroke-width="0.9"/>
<line x1="433.6" y1="600.1" x2="449.1" y2="610.5" stroke="#111" stroke-width="0.9"/>
<line x1="451.7" y1="589.1" x2="467.5" y2="598.9" stroke="#111" stroke-width="0.9"/>
<line x1="555.9" y1="611.8" x2="539.5" y2="603.2" stroke="#111" stroke-width="0.9"/>
<line x1="513.7" y1="632.5" x2="498.2" y2="623" stroke="#111" stroke-width="0.9"/>
<line x1="493.9" y1="642.5" x2="478.4" y2="632.9" stroke="#111" stroke-width="0.9"/>
<line x1="466.3" y1="658" x2="450.8" y2="648.4" stroke="#111" stroke-width="0.9"/>
<line x1="672" y1="207" x2="655" y2="217" stroke="#111" stroke-width="0.9"/>
<line x1="795.3" y1="156.7" x2="779.3" y2="164" stroke="#111" stroke-width="0.9"/>
<line x1="797.7" y1="239" x2="813" y2="230" stroke="#111" stroke-width="0.9"/>
<line x1="881.7" y1="85.7" x2="899.3" y2="85.7" stroke="#111" stroke-width="0.9"/>
<line x1="875.3" y1="142.7" x2="894.3" y2="142.7" stroke="#111" stroke-width="0.9"/>
<line x1="875.3" y1="165.7" x2="894.3" y2="165.3" stroke="#111" stroke-width="0.9"/>
<line x1="906" y1="182" x2="923.3" y2="182" stroke="#111" stroke-width="0.9"/>
<line x1="907" y1="196.7" x2="923.3" y2="196.7" stroke="#111" stroke-width="0.9"/>
<line x1="907" y1="212" x2="923.3" y2="212" stroke="#111" stroke-width="0.9"/>
<line x1="987.7" y1="165.7" x2="1006" y2="165.7" stroke="#111" stroke-width="0.9"/>
<line x1="366.3" y1="262.3" x2="384" y2="262.3" stroke="#111" stroke-width="0.9"/>
<line x1="460" y1="323.7" x2="475.8" y2="323.7" stroke="#111" stroke-width="0.9"/>
<line x1="478.6" y1="317.6" x2="492.4" y2="311.1" stroke="#111" stroke-width="0.9"/>
<line x1="402.3" y1="388.8" x2="417" y2="379.9" stroke="#111" stroke-width="0.9"/>
<line x1="558" y1="410.7" x2="573" y2="402.3" stroke="#111" stroke-width="0.9"/>
<line x1="653" y1="435" x2="653" y2="454" stroke="#111" stroke-width="0.9"/>
<line x1="691.3" y1="439.7" x2="691.3" y2="459" stroke="#111" stroke-width="0.9"/>
<line x1="664.7" y1="417.3" x2="673" y2="412.3" stroke="#111" stroke-width="0.9"/>
<line x1="828.2" y1="439.7" x2="812.5" y2="430.5" stroke="#111" stroke-width="0.9"/>
<line x1="913.3" y1="425.7" x2="898.3" y2="434" stroke="#111" stroke-width="0.9"/>
<line x1="935.3" y1="440.7" x2="920.3" y2="449.7" stroke="#111" stroke-width="0.9"/>
<line x1="955.3" y1="450.7" x2="941" y2="460" stroke="#111" stroke-width="0.9"/>
<line x1="1020.8" y1="487.4" x2="1006.1" y2="497.4" stroke="#111" stroke-width="0.9"/>
<line x1="952.6" y1="561" x2="936.6" y2="553.2" stroke="#111" stroke-width="0.9"/>
<circle cx="396.3" cy="262.3" r="12.5" fill="none" stroke="#111" stroke-width="0.9"/>
<circle cx="653" cy="422.3" r="12.7" fill="none" stroke="#111" stroke-width="0.9"/>
<circle cx="691.3" cy="426.7" r="12.7" fill="none" stroke="#111" stroke-width="0.9"/>
<ellipse cx="589" cy="379" rx="49.5" ry="28" fill="none" stroke="#111" stroke-width="0.9" transform="rotate(33 589 379)"/>
<path d="M1054 9.5 l3 -2.5 l3 0 M1062 9 l10 0" stroke="#999" stroke-width="1.6" fill="none"/>
</svg>
</body>
</html>
